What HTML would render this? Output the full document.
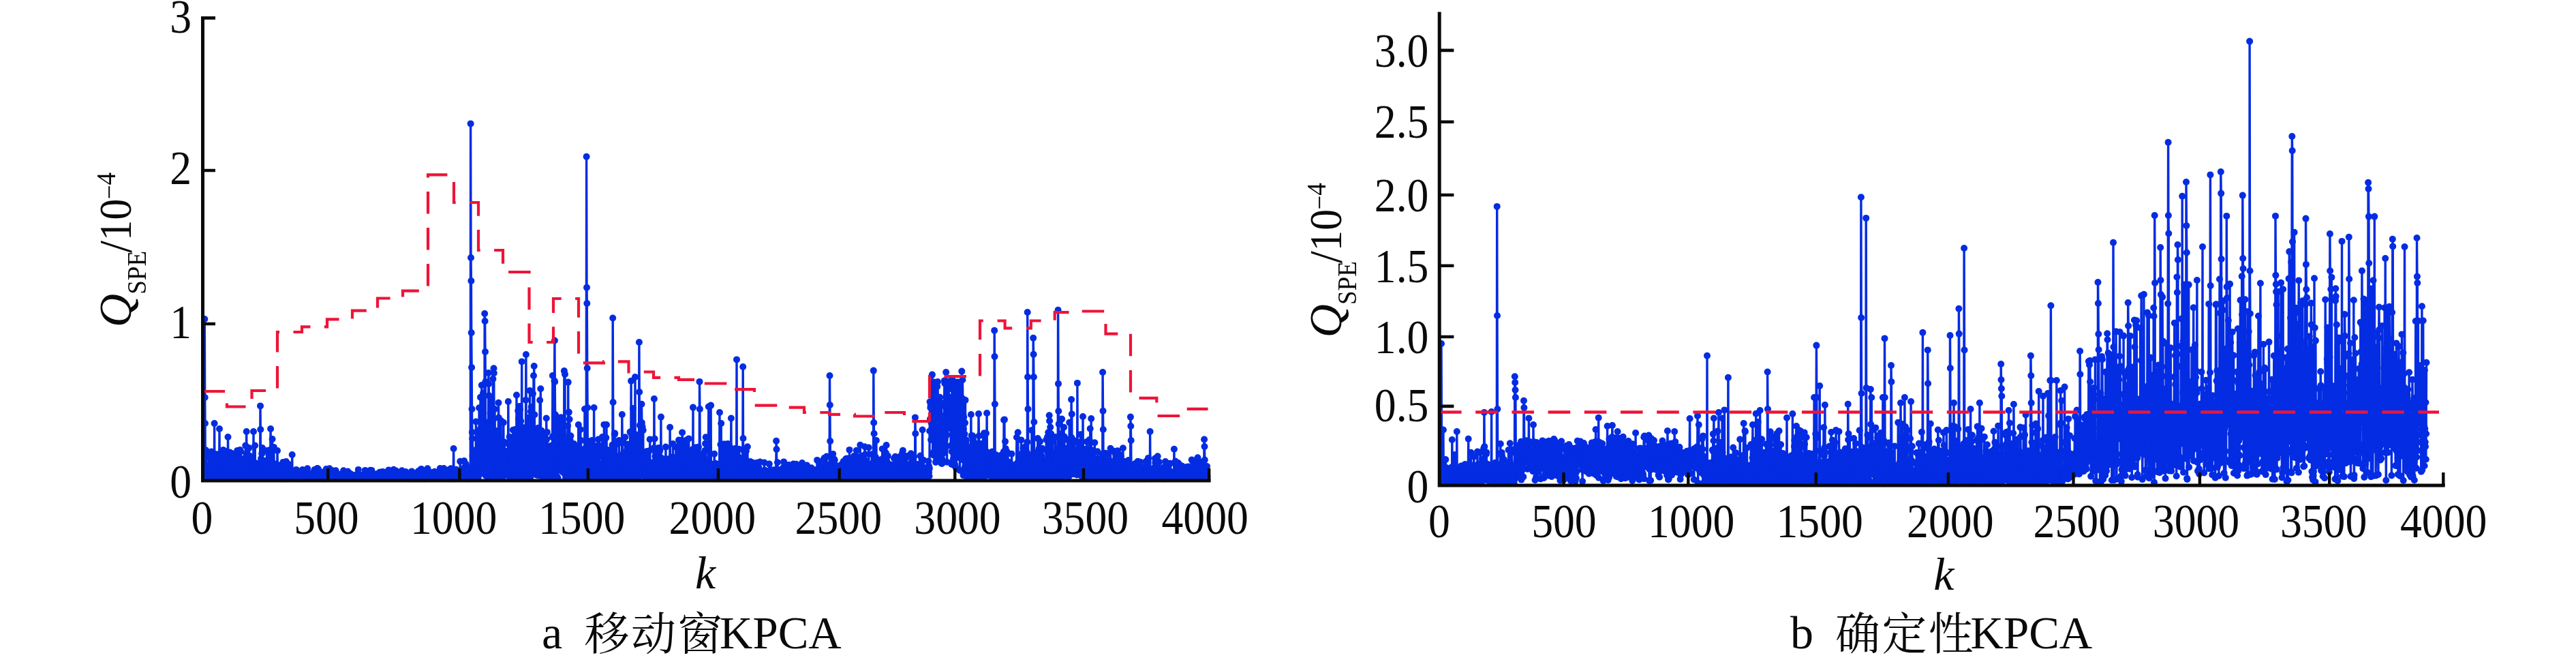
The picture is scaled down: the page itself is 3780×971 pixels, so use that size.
<!DOCTYPE html>
<html lang="zh"><head><meta charset="utf-8"><title>SPE monitoring charts</title>
<style>html,body{margin:0;padding:0;background:#fff}body{width:3780px;height:971px;overflow:hidden}svg{display:block;will-change:transform}text{font-family:"Liberation Serif", "Noto Serif CJK SC", serif;fill:#0a0a0a}</style></head><body>
<svg width="3780" height="971" viewBox="0 0 3780 971">
<rect width="3780" height="971" fill="#fff"/>
<defs><marker id="ma" markerUnits="userSpaceOnUse" markerWidth="12" markerHeight="12" refX="6" refY="6" overflow="visible"><circle cx="6" cy="6" r="5.0" fill="#042ce2"/></marker></defs>
<path d="M300.3,468L300.7,583 301,621 301.4,701.7 301.8,700.9 302.1,660.2 302.5,701.4 302.9,700 303.2,698.8 303.6,694.1 304,698.2 304.3,692.8 304.7,690.5 305.1,700.7 305.5,685.2 305.8,686.5 306.2,670.6 306.6,668 306.9,682 307.3,686.7 307.7,696.1 308,695.7 308.4,694.7 308.8,691.6 309.1,674.8 309.5,692.2 309.9,686.8 310.2,662.5 310.6,701.8 311,696.4 311.3,689.4 311.7,698.3 312.1,666.2 312.4,696.5 312.8,698 313.2,687.6 313.5,699.5 313.9,695.1 314.3,700.4 314.6,621 315,698.2 315.4,697.7 315.8,688.7 316.1,692.3 316.5,666.3 316.9,695.7 317.2,702.2 317.6,698.5 318,699 318.3,701.5 318.7,702.1 319.1,699.3 319.4,666.6 319.8,695.5 320.2,691.3 320.5,699.4 320.9,700.1 321.3,701.5 321.6,691.7 322,629 322.4,696.2 322.7,687.3 323.1,701.1 323.5,698.6 323.8,689.8 324.2,679 324.6,701.1 324.9,663.2 325.3,694.5 325.7,702 326.1,701.3 326.4,700.6 326.8,685.6 327.2,690.4 327.5,660 327.9,699.4 328.3,698.4 328.6,688.5 329,693.7 329.4,687.9 329.7,698.8 330.1,692.6 330.5,700 330.8,661.7 331.2,701.1 331.6,700 331.9,688 332.3,701 332.7,680.6 333,688 333.4,672 333.8,685.4 334.1,691.3 334.5,641 334.9,674 335.2,696.5 335.6,690.3 336,698.1 336.4,679 336.7,691.6 337.1,680.1 337.5,663.5 337.8,701.2 338.2,682.7 338.6,692.9 338.9,679.7 339.3,688.7 339.7,697.2 340,700.9 340.4,665.2 340.8,694.4 341.1,697.4 341.5,675 341.9,698.9 342.2,675 342.6,691 343,701 343.3,700.8 343.7,667.5 344.1,688.9 344.4,699.7 344.8,693.5 345.2,700.8 345.6,699.4 345.9,700.4 346.3,669.7 346.7,690.3 347,700.9 347.4,700.5 347.8,699.3 348.1,661 348.5,663 348.9,686.7 349.2,700.4 349.6,697.6 350,662 350.3,698.2 350.7,698.2 351.1,701.2 351.4,660.7 351.8,680.4 352.2,659.9 352.5,695.5 352.9,695.5 353.3,662.2 353.6,694.2 354,698.4 354.4,685.9 354.7,700.6 355.1,694.9 355.5,672.9 355.9,691.7 356.2,700.6 356.6,679.9 357,696.5 357.3,682.6 357.7,698.7 358.1,691.6 358.4,685.8 358.8,689.1 359.2,699.2 359.5,699.9 359.9,695.2 360.3,653.6 360.6,700.6 361,693.9 361.4,665.9 361.7,633 362.1,691.7 362.5,698.2 362.8,696.2 363.2,691.5 363.6,698 363.9,669.1 364.3,693.4 364.7,683.4 365,699.4 365.4,657.1 365.8,690.3 366.2,701.3 366.5,668.7 366.9,676.3 367.3,679.6 367.6,693.6 368,675.1 368.4,688.9 368.7,686.6 369.1,701.1 369.5,695.1 369.8,694.9 370.2,688.3 370.6,675.9 370.9,690.4 371.3,690.8 371.7,696.2 372,633 372.4,695 372.8,701.5 373.1,695.8 373.5,685.8 373.9,692 374.2,653.5 374.6,698.4 375,679.2 375.3,692.1 375.7,689.9 376.1,695.6 376.5,699.1 376.8,689.4 377.2,683.4 377.6,693.4 377.9,701.6 378.3,700.6 378.7,688.2 379,679.9 379.4,701.4 379.8,684.1 380.1,681.5 380.5,699.2 380.9,682.9 381.2,692.1 381.6,685.9 382,595.4 382.3,630 382.7,700.5 383.1,672.7 383.4,698.6 383.8,693.2 384.2,665.4 384.5,687.8 384.9,657.1 385.3,701.4 385.7,701 386,696.6 386.4,688.2 386.8,701.1 387.1,701.8 387.5,697.5 387.9,696.4 388.2,676 388.6,697.4 389,702.1 389.3,700.4 389.7,697.8 390.1,689.2 390.4,687.6 390.8,680.4 391.2,691.9 391.5,661.1 391.9,698.2 392.3,700.1 392.6,692.9 393,697.2 393.4,680.4 393.7,701 394.1,691.4 394.5,666.4 394.8,693.8 395.2,695.9 395.6,699.1 396,660.1 396.3,691.3 396.7,668.7 397.1,629 397.4,675.1 397.8,700.7 398.2,699.8 398.5,684.5 398.9,697.6 399.3,698.5 399.6,644 400,693.3 400.4,697.2 400.7,696.9 401.1,697.6 401.5,701.1 401.8,655.9 402.2,686.1 402.6,699.3 402.9,698.4 403.3,689 403.7,693.5 404,701.3 404.4,702 404.8,695.3 405.1,680.4 405.5,691.8 405.9,691.1 406.3,690.5 406.6,693.4 407,661 407.4,692.7 407.7,699.9 408.1,699.2 408.5,700.6 408.8,701.6 409.2,682.4 409.6,697.6 409.9,702.1 410.3,698.8 410.7,690.9 411,699.9 411.4,699.9 411.8,691.1 412.1,701.3 412.5,702.2 412.9,682.2 413.2,700.6 413.6,696.1 414,695.7 414.3,700.6 414.7,701.9 415.1,701.7 415.5,677.9 415.8,698.5 416.2,702.1 416.6,698 416.9,694.2 417.3,697.2 417.7,693.4 418,683.6 418.4,693.6 418.8,700.4 419.1,699.4 419.5,702.2 419.9,677 420.2,696.1 420.6,695.1 421,701.9 421.3,693.1 421.7,694.5 422.1,683.3 422.4,699.6 422.8,696.7 423.2,688.5 423.5,700.2 423.9,701 424.3,681.3 424.6,694.1 425,696.3 425.4,697.3 425.8,697.6 426.1,699.1 426.5,702.1 426.9,698.8 427.2,695.6 427.6,689.7 428,701 428.3,701.1 428.7,667 429.1,701.7 429.4,695 429.8,701.7 430.2,699.2 430.5,691 430.9,700.6 431.3,701.3 431.6,697.7 432,695.6 432.4,698.4 432.7,702.1 433.1,700.6 433.5,702.1 433.8,696.5 434.2,702 434.6,688.9 434.9,699.4 435.3,701.1 435.7,696 436.1,698.6 436.4,698 436.8,702.1 437.2,698.7 437.5,702.2 437.9,701.5 438.3,695.4 438.6,696.8 439,700.1 439.4,701.6 439.7,696.8 440.1,702 440.5,696 440.8,697.2 441.2,701 441.6,697 441.9,699.2 442.3,696 442.7,699.8 443,701.2 443.4,690.1 443.8,689 444.1,693.4 444.5,701.2 444.9,695.2 445.2,699.4 445.6,700.2 446,696 446.4,701.1 446.7,701.5 447.1,700.9 447.5,698.5 447.8,697.8 448.2,701.3 448.6,697.7 448.9,695.9 449.3,701.3 449.7,699 450,701.7 450.4,700.4 450.8,697.3 451.1,687.2 451.5,696.9 451.9,700.9 452.2,698.1 452.6,700.4 453,701.7 453.3,695.6 453.7,694.8 454.1,697.8 454.4,700.9 454.8,699.5 455.2,697.5 455.6,700.1 455.9,698 456.3,696.5 456.7,700.1 457,697.7 457.4,701.1 457.8,698.5 458.1,699.5 458.5,693.9 458.9,701 459.2,701.3 459.6,698.8 460,699.9 460.3,695.3 460.7,698.6 461.1,700.3 461.4,689 461.8,700.2 462.2,698.6 462.5,696.8 462.9,697.4 463.3,695 463.6,699.9 464,697.8 464.4,702.1 464.7,696.9 465.1,700.6 465.5,687 465.9,701.9 466.2,691.9 466.6,687.6 467,700.3 467.3,701.3 467.7,701.1 468.1,701.8 468.4,701.3 468.8,701.1 469.2,702.1 469.5,695.7 469.9,700 470.3,700.1 470.6,699.6 471,692.2 471.4,696.3 471.7,700.4 472.1,699.5 472.5,701.2 472.8,701.6 473.2,701.2 473.6,696.9 473.9,700 474.3,701.6 474.7,701.1 475,699.9 475.4,698.3 475.8,702.1 476.2,702.2 476.5,701.9 476.9,699.5 477.3,701.4 477.6,694 478,696.6 478.4,701.3 478.7,688 479.1,701.4 479.5,699.6 479.8,695.6 480.2,699.2 480.6,701.5 480.9,701.6 481.3,701.9 481.7,700.2 482,697.3 482.4,688.3 482.8,697.9 483.1,699.3 483.5,687.3 483.9,699.1 484.2,695.3 484.6,700.4 485,700.8 485.3,698.7 485.7,700.5 486.1,695.7 486.5,698.1 486.8,702 487.2,697.2 487.6,690.2 487.9,699.1 488.3,691.7 488.7,699.9 489,691.9 489.4,699.1 489.8,700.1 490.1,700.5 490.5,693.5 490.9,700.9 491.2,696.8 491.6,694.1 492,698.9 492.3,697.1 492.7,690.3 493.1,701.9 493.4,701.6 493.8,701.5 494.2,697.9 494.5,699 494.9,698.5 495.3,701.9 495.7,699.8 496,695.6 496.4,698.2 496.8,698 497.1,701.2 497.5,700.2 497.9,700.1 498.2,700.6 498.6,697 499,699.3 499.3,701.9 499.7,699 500.1,695.8 500.4,701.8 500.8,699.6 501.2,701.4 501.5,696.1 501.9,698.3 502.3,700.7 502.6,699.3 503,695.6 503.4,700.8 503.7,692.6 504.1,690.2 504.5,698.3 504.8,700.9 505.2,700.4 505.6,696.1 506,698.4 506.3,701.4 506.7,700.9 507.1,701.8 507.4,702.1 507.8,701.1 508.2,700 508.5,700.2 508.9,696.1 509.3,694.1 509.6,693.8 510,701.1 510.4,691.5 510.7,698.8 511.1,701.9 511.5,701.1 511.8,699.7 512.2,698.7 512.6,694.1 512.9,698.7 513.3,702 513.7,694.9 514,702.1 514.4,701.3 514.8,699.3 515.1,701.9 515.5,695.8 515.9,701.2 516.3,700.5 516.6,700.2 517,701 517.4,702 517.7,701.5 518.1,701.4 518.5,697.4 518.8,701.6 519.2,701.9 519.6,701.4 519.9,700.1 520.3,697.5 520.7,701 521,699.4 521.4,700.7 521.8,701.6 522.1,700.5 522.5,699.8 522.9,702 523.2,700.9 523.6,695.8 524,701.5 524.3,702.1 524.7,701.8 525.1,701.3 525.4,701.5 525.8,688.9 526.2,702 526.6,701.8 526.9,698.9 527.3,699.5 527.7,700 528,701 528.4,701.4 528.8,699.8 529.1,701.3 529.5,696.8 529.9,699.1 530.2,700.8 530.6,700.1 531,698.8 531.3,697 531.7,701.5 532.1,701.3 532.4,701.9 532.8,702.2 533.2,696.4 533.5,698.2 533.9,699.9 534.3,698.3 534.6,697.5 535,701.5 535.4,694.2 535.8,689.9 536.1,695.4 536.5,696.3 536.9,701.5 537.2,692.2 537.6,701.8 538,700.1 538.3,701.7 538.7,697.6 539.1,700.2 539.4,700.7 539.8,700.1 540.2,695.4 540.5,699.7 540.9,701.3 541.3,700.8 541.6,701.1 542,696.4 542.4,697.7 542.7,698 543.1,699.3 543.5,689.8 543.8,699.9 544.2,702 544.6,700 544.9,698.4 545.3,689.9 545.7,701.8 546.1,699.2 546.4,698.6 546.8,701.1 547.2,701.6 547.5,700.4 547.9,702.1 548.3,701.9 548.6,697.4 549,695.3 549.4,695.9 549.7,697.9 550.1,701.8 550.5,697.3 550.8,701.7 551.2,698.8 551.6,701 551.9,699.7 552.3,701.6 552.7,701 553,697.8 553.4,699.7 553.8,695.1 554.1,701.1 554.5,699.8 554.9,701.7 555.2,700.6 555.6,695 556,695.3 556.4,702 556.7,699.4 557.1,692.8 557.5,698.6 557.8,696.5 558.2,702 558.6,700.1 558.9,692.6 559.3,701.1 559.7,701.7 560,699.7 560.4,700.6 560.8,701.5 561.1,700.9 561.5,697.6 561.9,691.9 562.2,702 562.6,700.4 563,700.4 563.3,699.2 563.7,697.5 564.1,700.1 564.4,695.4 564.8,701.6 565.2,697.1 565.6,693.3 565.9,694.3 566.3,701.6 566.7,698.1 567,700.2 567.4,701.9 567.8,698.4 568.1,702 568.5,701.5 568.9,701.3 569.2,695.9 569.6,698.1 570,698 570.3,689.4 570.7,701.8 571.1,699.6 571.4,701.8 571.8,696.4 572.2,701.8 572.5,701.4 572.9,700.1 573.3,698.4 573.6,700.2 574,700 574.4,696.5 574.7,700.9 575.1,698.5 575.5,701 575.9,701.2 576.2,700 576.6,700.8 577,701.3 577.3,702 577.7,688.7 578.1,699.1 578.4,699.4 578.8,702 579.2,690.8 579.5,701.2 579.9,699.5 580.3,699.6 580.6,693.1 581,700.3 581.4,690.8 581.7,700.2 582.1,695.2 582.5,701.3 582.8,697.7 583.2,697.5 583.6,700.2 583.9,699.7 584.3,702.1 584.7,695.3 585,698.9 585.4,700.3 585.8,700.7 586.2,694.9 586.5,701.4 586.9,700.9 587.3,701.2 587.6,700.6 588,701.4 588.4,701.6 588.7,694.1 589.1,697.9 589.5,701.8 589.8,690.3 590.2,697.2 590.6,694.3 590.9,699 591.3,700.5 591.7,700.8 592,699.8 592.4,699.7 592.8,700.3 593.1,697.2 593.5,699.1 593.9,701.3 594.2,700.9 594.6,701.6 595,699.8 595.3,692 595.7,698.7 596.1,701.1 596.5,700.9 596.8,701 597.2,702.1 597.6,694.8 597.9,694.7 598.3,700.2 598.7,701.2 599,701.2 599.4,699 599.8,700.9 600.1,696.8 600.5,697.5 600.9,695.9 601.2,697.6 601.6,700.4 602,701.5 602.3,702.1 602.7,696.4 603.1,699.5 603.4,692.5 603.8,695.9 604.2,691.4 604.5,694.6 604.9,702 605.3,701.5 605.7,700.2 606,698.8 606.4,694.8 606.8,701 607.1,702.2 607.5,695.2 607.9,699.7 608.2,701.6 608.6,697.3 609,701.5 609.3,700.9 609.7,700.9 610.1,698.1 610.4,699 610.8,697.5 611.2,695.3 611.5,698.5 611.9,700.3 612.3,698.5 612.6,695 613,700.8 613.4,699.7 613.7,691.2 614.1,693.2 614.5,699.8 614.8,698.9 615.2,700.9 615.6,699.8 616,690.1 616.3,696.3 616.7,701.2 617.1,692.1 617.4,698.8 617.8,700.5 618.2,687.9 618.5,701 618.9,701.9 619.3,702.2 619.6,699.5 620,690.7 620.4,695.1 620.7,701.7 621.1,691.1 621.5,696.1 621.8,698 622.2,698.1 622.6,701.2 622.9,699.4 623.3,702.2 623.7,702.1 624,695.8 624.4,702.1 624.8,696.2 625.1,699.9 625.5,698 625.9,701.4 626.3,701 626.6,701.8 627,698.8 627.4,687.2 627.7,697.8 628.1,693.6 628.5,701.4 628.8,700.1 629.2,701.6 629.6,698.4 629.9,696.9 630.3,701 630.7,698.7 631,701.7 631.4,700.5 631.8,701.9 632.1,699.3 632.5,693.1 632.9,698.4 633.2,701.8 633.6,701.9 634,697.9 634.3,695 634.7,701.2 635.1,701.5 635.4,701.8 635.8,697.1 636.2,699.2 636.6,701.8 636.9,697.9 637.3,701.6 637.7,691.7 638,701.2 638.4,699.8 638.8,699.3 639.1,699.4 639.5,702.1 639.9,700.9 640.2,700.5 640.6,697.4 641,701 641.3,700.1 641.7,699 642.1,699.6 642.4,698 642.8,700.6 643.2,693.8 643.5,700 643.9,698.3 644.3,697.8 644.6,695.3 645,698.8 645.4,698.8 645.8,687 646.1,695.3 646.5,699.1 646.9,699.7 647.2,699.7 647.6,697.3 648,700.6 648.3,698.1 648.7,696.9 649.1,696.5 649.4,701.1 649.8,693.3 650.2,690.3 650.5,693.8 650.9,701.4 651.3,687.1 651.6,701 652,701.6 652.4,700.8 652.7,698.3 653.1,700.9 653.5,698.3 653.8,700 654.2,695.6 654.6,698.2 654.9,695.3 655.3,701.1 655.7,701.6 656.1,699.1 656.4,691.8 656.8,696.3 657.2,694.2 657.5,701.9 657.9,698.3 658.3,700.3 658.6,690.7 659,689 659.4,701.6 659.7,702.1 660.1,697.2 660.5,697.9 660.8,694.6 661.2,699.2 661.6,687.2 661.9,702.2 662.3,702.1 662.7,698.3 663,698.6 663.4,699.3 663.8,697.1 664.1,699.5 664.5,695.5 664.9,700.1 665.2,700.3 665.6,658 666,698.6 666.4,700.8 666.7,700.4 667.1,700.5 667.5,699.4 667.8,692.3 668.2,699.4 668.6,701.3 668.9,696.3 669.3,688.8 669.7,698.8 670,696.2 670.4,698.7 670.8,701.6 671.1,701.5 671.5,696.3 671.9,698.9 672.2,700.6 672.6,702 673,696.9 673.3,700.9 673.7,695.6 674.1,699.9 674.4,701.1 674.8,699.9 675.2,676.7 675.5,700.5 675.9,699.9 676.3,694.6 676.7,690 677,698.2 677.4,692 677.8,698.2 678.1,699.1 678.5,696.2 678.9,698.3 679.2,701.6 679.6,699.5 680,701.1 680.3,700.1 680.7,697.9 681.1,676 681.4,694.2 681.8,685.2 682.2,695.1 682.5,693.3 682.9,694.6 683.3,698.2 683.6,680.5 684,691.6 684.4,700.7 684.7,700.8 685.1,701.8 685.5,694.3 685.9,687.7 686.2,702.2 686.6,693.2 687,689.4 687.3,701.8 687.7,700.1 688.1,701.5 688.4,696.4 688.8,697.8 689.2,696.2 689.5,700.7 689.9,701.3 690.3,685.9 690.6,181.4 691,378 691.4,412 691.7,488 692.1,539 692.5,600 692.8,634 693.2,643.2 693.6,668.5 693.9,688.6 694.3,701.9 694.7,693.7 695,660.5 695.4,684.6 695.8,683.3 696.2,694 696.5,686 696.9,700.5 697.3,695.6 697.6,668.1 698,688.8 698.4,618.5 698.7,670.3 699.1,681 699.5,675.2 699.8,696.8 700.2,690.9 700.6,687.2 700.9,683.9 701.3,631.3 701.7,700.3 702,687.2 702.4,669.7 702.8,692.5 703.1,598.3 703.5,679.6 703.9,637.2 704.2,678.6 704.6,650.1 705,582.8 705.3,674.6 705.7,682.4 706.1,667 706.5,668.2 706.8,565 707.2,622.9 707.6,635.6 707.9,681.4 708.3,694.6 708.7,683.7 709,576.7 709.4,605.9 709.8,671.8 710.1,680.2 710.5,653.7 710.9,636.7 711.2,460 711.6,471 712,516 712.3,560 712.7,692.1 713.1,698 713.4,685.4 713.8,671.4 714.2,644.5 714.5,640 714.9,670.4 715.3,623.3 715.7,633.5 716,689.7 716.4,700.8 716.8,546.9 717.1,563.3 717.5,580.3 717.9,638.9 718.2,618 718.6,682.2 719,582 719.3,655.6 719.7,622 720.1,630.9 720.4,583 720.8,694.1 721.2,622.6 721.5,672.6 721.9,646.6 722.3,674.5 722.6,623.4 723,700.8 723.4,555.7 723.7,660.3 724.1,615.2 724.5,540.2 724.8,547.2 725.2,688.8 725.6,694.3 726,600 726.3,650.8 726.7,699.3 727.1,701.9 727.4,686.5 727.8,655.7 728.2,700.1 728.5,632.1 728.9,683 729.3,657.2 729.6,664.9 730,683.8 730.4,687.5 730.7,682.7 731.1,675.4 731.5,590.8 731.8,612.7 732.2,682.8 732.6,693.8 732.9,700.2 733.3,692.2 733.7,669.5 734,700.9 734.4,687.4 734.8,698.3 735.1,617 735.5,693.1 735.9,678.4 736.3,693.8 736.6,655.8 737,698.7 737.4,700.2 737.7,694.6 738.1,699.3 738.5,674.6 738.8,619.8 739.2,692.9 739.6,660.8 739.9,697.3 740.3,648.5 740.7,673.6 741,678.5 741.4,689.9 741.8,688.6 742.1,671.1 742.5,681.5 742.9,695.3 743.2,677.1 743.6,695 744,662.5 744.3,661.9 744.7,690.1 745.1,673.3 745.4,693.3 745.8,589 746.2,666.7 746.6,651.7 746.9,650.8 747.3,667.6 747.7,640.7 748,700.6 748.4,659.4 748.8,697.8 749.1,647 749.5,676.9 749.9,672.8 750.2,681.7 750.6,698.6 751,669.1 751.3,664.5 751.7,671.4 752.1,698.7 752.4,673.2 752.8,630.7 753.2,685.6 753.5,700.6 753.9,696.7 754.3,689.8 754.6,701.5 755,668.2 755.4,696.4 755.8,630 756.1,687.2 756.5,652.8 756.9,665.7 757.2,696.9 757.6,696.9 758,579.5 758.3,688.2 758.7,692.3 759.1,698.1 759.4,676.3 759.8,690.1 760.2,602.5 760.5,682.8 760.9,614.9 761.3,699.5 761.6,668.2 762,685.2 762.4,595.9 762.7,700.3 763.1,600.4 763.5,679.8 763.8,698.9 764.2,617.7 764.6,695.2 764.9,672.1 765.3,666.6 765.7,530.4 766.1,645.2 766.4,694.9 766.8,697.4 767.2,693.7 767.5,681.1 767.9,686.8 768.3,627.3 768.6,672 769,701.6 769.4,680.6 769.7,696.9 770.1,641.8 770.5,656.8 770.8,644.2 771.2,670.6 771.6,586.7 771.9,520 772.3,677.3 772.7,674.4 773,699.2 773.4,663.9 773.8,639.9 774.1,700.2 774.5,662.5 774.9,688.3 775.2,612.8 775.6,701.2 776,689.9 776.4,690.3 776.7,678.6 777.1,692.2 777.5,572.9 777.8,695.3 778.2,700.5 778.6,680.8 778.9,603.6 779.3,684.6 779.7,597 780,696.3 780.4,681.3 780.8,695.4 781.1,685.8 781.5,686.2 781.9,577.4 782.2,688.1 782.6,695.1 783,551 783.3,694.7 783.7,537 784.1,670.2 784.4,608.3 784.8,675.9 785.2,644.8 785.5,671.3 785.9,648.4 786.3,674.6 786.7,633.3 787,682.5 787.4,696.7 787.8,664.9 788.1,648.6 788.5,680.8 788.9,630 789.2,663.1 789.6,627.7 790,697.5 790.3,695.1 790.7,670.5 791.1,690 791.4,631.4 791.8,655.5 792.2,587 792.5,672.9 792.9,666 793.3,570.2 793.6,638.2 794,683.4 794.4,651.1 794.7,631.8 795.1,666.1 795.5,670.4 795.9,697.6 796.2,652.6 796.6,700.7 797,639.5 797.3,686.7 797.7,695.9 798.1,680.7 798.4,676.3 798.8,677 799.2,657 799.5,691.5 799.9,699.9 800.3,647.5 800.6,700.6 801,681 801.4,698.1 801.7,613.5 802.1,644.6 802.5,695.9 802.8,633.9 803.2,695.6 803.6,692.8 803.9,699.5 804.3,683.6 804.7,682.9 805,696 805.4,688 805.8,683.7 806.2,655 806.5,666.6 806.9,695.5 807.3,697 807.6,673.4 808,697.9 808.4,696.3 808.7,653.7 809.1,693.8 809.5,680.7 809.8,678.2 810.2,683.3 810.6,641.3 810.9,551 811.3,639.8 811.7,694.8 812,689.6 812.4,660.5 812.8,701.9 813.1,686.5 813.5,558.6 813.9,499.5 814.2,560 814.6,608 815,641.4 815.3,609.6 815.7,658.6 816.1,699.3 816.5,658.2 816.8,698.3 817.2,614.3 817.6,682.4 817.9,688.7 818.3,700.9 818.7,702.1 819,672.6 819.4,644 819.8,677.5 820.1,616.5 820.5,674.9 820.9,688.5 821.2,657.2 821.6,687.9 822,678.4 822.3,688.9 822.7,676.7 823.1,612.2 823.4,674.9 823.8,689.3 824.2,618.5 824.5,670.7 824.9,691.8 825.3,668.5 825.6,650.7 826,680.4 826.4,638.7 826.8,650 827.1,693.5 827.5,681.8 827.9,544 828.2,663 828.6,683.5 829,549 829.3,696.1 829.7,673.2 830.1,701.2 830.4,678 830.8,666.7 831.2,667.4 831.5,647 831.9,697.3 832.3,667.6 832.6,647 833,624.4 833.4,688.3 833.7,560.6 834.1,684.7 834.5,701.9 834.8,604.6 835.2,655.5 835.6,615 836,700.4 836.3,687.6 836.7,645.9 837.1,649.5 837.4,639.2 837.8,675 838.2,663.1 838.5,692.8 838.9,689.5 839.3,664.3 839.6,689.1 840,680.3 840.4,675.3 840.7,670.6 841.1,678.4 841.5,688.7 841.8,700.1 842.2,651.1 842.6,693.7 842.9,696.2 843.3,694.2 843.7,667.2 844,658.4 844.4,695.8 844.8,695 845.1,656.2 845.5,688 845.9,696.8 846.3,699.7 846.6,683.5 847,692.5 847.4,674.5 847.7,698.9 848.1,691.6 848.5,684.7 848.8,623 849.2,692.1 849.6,701.8 849.9,668.5 850.3,689.6 850.7,689.7 851,699.5 851.4,685.6 851.8,630 852.1,692 852.5,646.1 852.9,697.7 853.2,695.4 853.6,689.8 854,667.5 854.3,663 854.7,689.2 855.1,685.3 855.4,698.3 855.8,660.5 856.2,695.7 856.6,664.4 856.9,702.2 857.3,687.2 857.7,658.4 858,600 858.4,664.3 858.8,690.7 859.1,690.2 859.5,680.9 859.9,684.4 860.2,694.2 860.6,229.8 861,421.7 861.3,445 861.7,540 862.1,598 862.4,696 862.8,672.8 863.2,693.8 863.5,679.2 863.9,674.8 864.3,696.1 864.6,688 865,647.3 865.4,680.9 865.7,656.2 866.1,698.9 866.5,692.8 866.9,678.4 867.2,669.1 867.6,686.8 868,654.2 868.3,679.9 868.7,646 869.1,676.9 869.4,694.7 869.8,690.2 870.2,678.8 870.5,690.6 870.9,698.7 871.3,685.2 871.6,598 872,695.7 872.4,691.8 872.7,689.1 873.1,697.8 873.5,695.2 873.8,696.5 874.2,661.8 874.6,654.3 874.9,684.4 875.3,701.8 875.7,699.9 876.1,656.5 876.4,690.5 876.8,685.6 877.2,690.1 877.5,696.8 877.9,644.6 878.3,661.2 878.6,665.9 879,702.1 879.4,653.7 879.7,660.3 880.1,698.7 880.5,690.2 880.8,700.2 881.2,697.9 881.6,689.8 881.9,697.2 882.3,701.4 882.7,680.3 883,685 883.4,681.7 883.8,641.1 884.1,685.5 884.5,693.4 884.9,669.9 885.2,688.2 885.6,684.7 886,698.5 886.4,622.9 886.7,676.6 887.1,690.6 887.5,687.5 887.8,700.7 888.2,689.4 888.6,678.9 888.9,678.9 889.3,642.1 889.7,691 890,623 890.4,691.2 890.8,678.8 891.1,701 891.5,697 891.9,671.9 892.2,659.9 892.6,696.4 893,676.5 893.3,686.6 893.7,692.7 894.1,695.6 894.4,687.7 894.8,697.5 895.2,701.6 895.5,662.3 895.9,679.3 896.3,694 896.7,699.3 897,664.8 897.4,684.6 897.8,700.8 898.1,671.1 898.5,652.8 898.9,688.6 899.2,466.5 899.6,590 900,682.8 900.3,669.1 900.7,686 901.1,675 901.4,677.7 901.8,637.3 902.2,635.6 902.5,700.5 902.9,701.1 903.3,697.2 903.6,697.9 904,691.2 904.4,651.7 904.7,699.4 905.1,699.9 905.5,694.5 905.9,700.2 906.2,701.3 906.6,670.3 907,692.1 907.3,681.4 907.7,696.2 908.1,701.3 908.4,645.9 908.8,700.5 909.2,695.2 909.5,668.3 909.9,692.4 910.3,687.9 910.6,689.2 911,686.1 911.4,671.3 911.7,690.4 912.1,701.5 912.5,702 912.8,608 913.2,649.9 913.6,693.1 913.9,696.2 914.3,689.1 914.7,684.9 915,664.4 915.4,684.8 915.8,674.6 916.2,685 916.5,687.8 916.9,700.6 917.3,641.2 917.6,699.8 918,670.5 918.4,663.8 918.7,698.5 919.1,685.5 919.5,694.7 919.8,697.1 920.2,651.4 920.6,658.9 920.9,699.4 921.3,661.9 921.7,688.3 922,701.8 922.4,667.3 922.8,676.7 923.1,666.2 923.5,677.7 923.9,698.4 924.2,691.7 924.6,633.6 925,688.7 925.3,701.6 925.7,699.6 926.1,558.7 926.5,698.1 926.8,636.8 927.2,701.7 927.6,695.7 927.9,698.9 928.3,670 928.7,699.5 929,599.1 929.4,693.9 929.8,650 930.1,680.3 930.5,690.6 930.9,698 931.2,692.5 931.6,645.2 932,553 932.3,701.6 932.7,666.7 933.1,637.6 933.4,665.8 933.8,668.3 934.2,680.2 934.5,691.4 934.9,700.2 935.3,640.3 935.6,688 936,664 936.4,684.5 936.8,701.3 937.1,681.4 937.5,677.8 937.9,502 938.2,575 938.6,679 939,623.9 939.3,683.4 939.7,663.3 940.1,624.6 940.4,640.2 940.8,692.1 941.2,683.6 941.5,592.7 941.9,620 942.3,697.3 942.6,625.7 943,678.3 943.4,676.9 943.7,631.1 944.1,686.2 944.5,687.3 944.8,689.3 945.2,678.6 945.6,694.5 946,698.9 946.3,674 946.7,663.2 947.1,686.5 947.4,675.2 947.8,679.3 948.2,699.4 948.5,691 948.9,682.9 949.3,661.9 949.6,686.4 950,670.4 950.4,683.6 950.7,690.1 951.1,701.3 951.5,698.2 951.8,701.1 952.2,690 952.6,699.8 952.9,661.3 953.3,696.9 953.7,644.4 954,695.7 954.4,700.1 954.8,699.7 955.1,693.2 955.5,678.4 955.9,684.5 956.3,697.4 956.6,698 957,701.4 957.4,697 957.7,697.5 958.1,699.1 958.5,686.1 958.8,681.9 959.2,657.2 959.6,698.6 959.9,585 960.3,686.7 960.7,643.5 961,699.7 961.4,669.3 961.8,676.8 962.1,697.4 962.5,663.9 962.9,694.8 963.2,690.1 963.6,698.1 964,681.8 964.3,676.2 964.7,697.7 965.1,684.6 965.4,696.8 965.8,674.9 966.2,656.9 966.6,672.2 966.9,701.4 967.3,696.7 967.7,686.7 968,694.1 968.4,660.9 968.8,697.4 969.1,692.6 969.5,701.3 969.9,611.6 970.2,691.9 970.6,698.5 971,672.1 971.3,697.8 971.7,682.6 972.1,686.7 972.4,701.6 972.8,696.7 973.2,679.2 973.5,700.3 973.9,700.6 974.3,693.2 974.6,697.4 975,678.2 975.4,684.6 975.7,692.4 976.1,686.2 976.5,696.7 976.9,655.6 977.2,674.9 977.6,676 978,695.2 978.3,693.3 978.7,684.9 979.1,695.8 979.4,701 979.8,694 980.2,690.5 980.5,674.4 980.9,673.3 981.3,677.4 981.6,691.4 982,674.1 982.4,673.3 982.7,691 983.1,626.7 983.5,699.2 983.8,689.6 984.2,691.2 984.6,695.7 984.9,701.8 985.3,694 985.7,701.4 986.1,689.9 986.4,670.5 986.8,678.5 987.2,698 987.5,651.1 987.9,698.8 988.3,682.6 988.6,690.7 989,693.1 989.4,675.3 989.7,697.2 990.1,694.6 990.5,702 990.8,693.2 991.2,671.1 991.6,681.7 991.9,656 992.3,699.7 992.7,687.8 993,680.3 993.4,671.1 993.8,692.8 994.1,684.3 994.5,689.6 994.9,656.8 995.2,699.9 995.6,671.4 996,645.6 996.4,700.1 996.7,692.9 997.1,697.7 997.5,652.3 997.8,699.6 998.2,690.6 998.6,702 998.9,696.1 999.3,700.1 999.7,673.5 1000,675.4 1000.4,645.7 1000.8,701.3 1001.1,634.4 1001.5,651.5 1001.9,696.6 1002.2,663 1002.6,699.7 1003,693.8 1003.3,694 1003.7,678.5 1004.1,695.4 1004.4,701.5 1004.8,698.3 1005.2,659.2 1005.5,688.5 1005.9,695.2 1006.3,698 1006.7,692.7 1007,699.2 1007.4,645.6 1007.8,663.7 1008.1,686.8 1008.5,698.6 1008.9,682.7 1009.2,662.6 1009.6,685.9 1010,681.8 1010.3,687.5 1010.7,643.4 1011.1,688.3 1011.4,701.8 1011.8,689.5 1012.2,694 1012.5,700.9 1012.9,697.5 1013.3,700.5 1013.6,676.4 1014,678.9 1014.4,673.1 1014.7,701.9 1015.1,667.8 1015.5,701.7 1015.8,698.3 1016.2,659.2 1016.6,690.9 1017,597.6 1017.3,696 1017.7,673.1 1018.1,686.9 1018.4,675.5 1018.8,701.6 1019.2,689 1019.5,664.8 1019.9,691.9 1020.3,690.5 1020.6,688.9 1021,695.9 1021.4,656.2 1021.7,664.9 1022.1,695.4 1022.5,698.1 1022.8,696.3 1023.2,690.2 1023.6,695.1 1023.9,700.3 1024.3,697.1 1024.7,680.9 1025,655.7 1025.4,680.6 1025.8,699.7 1026.2,700.9 1026.5,559.9 1026.9,600 1027.3,700.9 1027.6,684.9 1028,669.8 1028.4,674.5 1028.7,701.3 1029.1,700.6 1029.5,666.8 1029.8,679.5 1030.2,702 1030.6,701.9 1030.9,675.9 1031.3,678.2 1031.7,695.7 1032,697.4 1032.4,694 1032.8,681 1033.1,700 1033.5,698.4 1033.9,700 1034.2,661.1 1034.6,686.2 1035,650.8 1035.3,691.1 1035.7,641.2 1036.1,702.1 1036.5,692.8 1036.8,699.1 1037.2,699.7 1037.6,683.8 1037.9,674.9 1038.3,692 1038.7,676.5 1039,694 1039.4,679.9 1039.8,596.5 1040.1,656.5 1040.5,697.9 1040.9,693 1041.2,700.5 1041.6,690.8 1042,698 1042.3,696.3 1042.7,695.3 1043.1,594.6 1043.4,698.2 1043.8,699.3 1044.2,681.6 1044.5,695.6 1044.9,693.2 1045.3,694.5 1045.6,680.8 1046,700.5 1046.4,694.5 1046.8,686.5 1047.1,700.3 1047.5,692.5 1047.9,695.5 1048.2,665.7 1048.6,702.2 1049,694.3 1049.3,699.6 1049.7,691.9 1050.1,679.8 1050.4,695.6 1050.8,684.4 1051.2,697.2 1051.5,695.5 1051.9,701 1052.3,699.7 1052.6,700.2 1053,696.1 1053.4,681.3 1053.7,699.3 1054.1,686.4 1054.5,684.8 1054.8,681 1055.2,702.1 1055.6,698.7 1056,605 1056.3,684.7 1056.7,700.3 1057.1,691.7 1057.4,652 1057.8,698.1 1058.2,621 1058.5,699.3 1058.9,664.1 1059.3,701 1059.6,684.6 1060,694.4 1060.4,683.4 1060.7,684.6 1061.1,692.3 1061.5,689.7 1061.8,651.6 1062.2,689.9 1062.6,693.1 1062.9,697.6 1063.3,667.2 1063.7,700.1 1064,651.5 1064.4,697.4 1064.8,673.9 1065.1,701.7 1065.5,700 1065.9,697.9 1066.3,655 1066.6,689.9 1067,656.7 1067.4,697.6 1067.7,688.3 1068.1,650.9 1068.5,685.8 1068.8,697.4 1069.2,694.8 1069.6,697.8 1069.9,688.6 1070.3,654.3 1070.7,681.5 1071,686.8 1071.4,663.3 1071.8,700.2 1072.1,658.7 1072.5,677 1072.9,613.5 1073.2,693.5 1073.6,690.5 1074,695.9 1074.3,669.5 1074.7,695.8 1075.1,693.2 1075.4,662.9 1075.8,698.4 1076.2,668.3 1076.6,664.9 1076.9,699.6 1077.3,691.3 1077.7,698.7 1078,699.5 1078.4,657.9 1078.8,695.9 1079.1,663.5 1079.5,693.6 1079.9,699.6 1080.2,698.7 1080.6,692.1 1081,527.4 1081.3,700.7 1081.7,700 1082.1,699.1 1082.4,686.2 1082.8,702.1 1083.2,695.4 1083.5,684.5 1083.9,685.3 1084.3,682 1084.6,658.8 1085,673.3 1085.4,698.3 1085.7,696.6 1086.1,688.5 1086.5,671.4 1086.9,694.2 1087.2,697.8 1087.6,694.4 1088,701.3 1088.3,682.5 1088.7,685.3 1089.1,679 1089.4,697.1 1089.8,683.2 1090.2,538 1090.5,643 1090.9,697.7 1091.3,699.4 1091.6,688.7 1092,662.3 1092.4,701.3 1092.7,690.8 1093.1,679.1 1093.5,680.6 1093.8,690.7 1094.2,693.7 1094.6,698.2 1094.9,661.6 1095.3,699.3 1095.7,678.3 1096.1,680.8 1096.4,700.9 1096.8,655.2 1097.2,681.9 1097.5,680.4 1097.9,694.6 1098.3,687.3 1098.6,701 1099,694.6 1099.4,689.2 1099.7,699.2 1100.1,694.2 1100.5,699.4 1100.8,676.9 1101.2,690.6 1101.6,695.4 1101.9,697.9 1102.3,682.5 1102.7,693.7 1103,691.9 1103.4,683.8 1103.8,683.2 1104.1,697.8 1104.5,692.5 1104.9,678.7 1105.2,695.3 1105.6,699 1106,700.7 1106.4,687.6 1106.7,700.6 1107.1,694.2 1107.5,697.1 1107.8,686.5 1108.2,692.5 1108.6,695.9 1108.9,700.7 1109.3,698.1 1109.7,685 1110,688.4 1110.4,689.3 1110.8,678.8 1111.1,690.8 1111.5,699.3 1111.9,700.7 1112.2,698 1112.6,701 1113,686.2 1113.3,685.4 1113.7,693.2 1114.1,698.5 1114.4,692.8 1114.8,692.9 1115.2,677.5 1115.5,701.1 1115.9,690.5 1116.3,696.3 1116.7,694.7 1117,692.3 1117.4,692.6 1117.8,700.9 1118.1,701.9 1118.5,701.8 1118.9,696.9 1119.2,695.1 1119.6,698.1 1120,698.9 1120.3,701 1120.7,699.3 1121.1,694 1121.4,678.4 1121.8,689.7 1122.2,696.5 1122.5,698.6 1122.9,690.1 1123.3,697.2 1123.6,701.7 1124,693.4 1124.4,701.5 1124.7,696.6 1125.1,698.4 1125.5,700.4 1125.8,691.1 1126.2,701.8 1126.6,700.5 1127,693 1127.3,693.5 1127.7,700.1 1128.1,697.1 1128.4,698.2 1128.8,680.6 1129.2,701.7 1129.5,696.7 1129.9,698.7 1130.3,690.8 1130.6,689 1131,694.6 1131.4,694.9 1131.7,694.1 1132.1,701.5 1132.5,701.8 1132.8,696.3 1133.2,700.7 1133.6,695.4 1133.9,690.1 1134.3,698.4 1134.7,699.8 1135,701.3 1135.4,699.7 1135.8,689.3 1136.2,698.9 1136.5,698.4 1136.9,699.2 1137.3,693.1 1137.6,695.4 1138,695 1138.4,702.2 1138.7,701 1139.1,646.7 1139.5,659 1139.8,695.3 1140.2,692.1 1140.6,700.6 1140.9,678.3 1141.3,694.9 1141.7,701.1 1142,692.6 1142.4,689.2 1142.8,699.7 1143.1,701.6 1143.5,695.1 1143.9,694 1144.2,697.8 1144.6,697 1145,700.7 1145.3,702 1145.7,695.3 1146.1,700.7 1146.5,689.2 1146.8,696.3 1147.2,695.7 1147.6,702 1147.9,698.7 1148.3,687.2 1148.7,701.2 1149,699.3 1149.4,701.9 1149.8,685.4 1150.1,677.4 1150.5,696.9 1150.9,698.5 1151.2,698 1151.6,683.7 1152,681.1 1152.3,694.5 1152.7,701.2 1153.1,701.9 1153.4,701.7 1153.8,694.4 1154.2,687.9 1154.5,683.9 1154.9,700.1 1155.3,689.6 1155.6,691.2 1156,684.8 1156.4,685.3 1156.8,696.1 1157.1,699.8 1157.5,682 1157.9,699.7 1158.2,701.9 1158.6,686.9 1159,700.7 1159.3,699.6 1159.7,693.5 1160.1,700.4 1160.4,686.2 1160.8,696.6 1161.2,692 1161.5,696.9 1161.9,700.6 1162.3,690.8 1162.6,700 1163,690 1163.4,686.2 1163.7,699.6 1164.1,680.6 1164.5,695.7 1164.8,698 1165.2,699.8 1165.6,694.2 1165.9,700 1166.3,700.7 1166.7,699.5 1167.1,694.1 1167.4,701.9 1167.8,690.2 1168.2,680.7 1168.5,697.8 1168.9,690.8 1169.3,699.2 1169.6,689.7 1170,698.9 1170.4,688.6 1170.7,697.6 1171.1,698.3 1171.5,698.7 1171.8,702.2 1172.2,701.1 1172.6,701.7 1172.9,701.9 1173.3,696.6 1173.7,701.5 1174,694.9 1174.4,699.4 1174.8,686.7 1175.1,701.6 1175.5,699.4 1175.9,694.3 1176.3,690.6 1176.6,702.1 1177,679.1 1177.4,700.5 1177.7,693 1178.1,696.4 1178.5,691.1 1178.8,696.9 1179.2,696.8 1179.6,700.5 1179.9,701.5 1180.3,684.5 1180.7,691.6 1181,697.7 1181.4,700.7 1181.8,697.9 1182.1,695 1182.5,698.5 1182.9,696.9 1183.2,697.9 1183.6,692.5 1184,682.5 1184.3,701.6 1184.7,700.6 1185.1,700.6 1185.4,700.4 1185.8,692.1 1186.2,700.8 1186.6,702.1 1186.9,696.4 1187.3,694.6 1187.7,688.3 1188,694.6 1188.4,697.7 1188.8,700.3 1189.1,701.1 1189.5,701.3 1189.9,701.5 1190.2,697 1190.6,686.3 1191,696 1191.3,692 1191.7,689.7 1192.1,697.3 1192.4,700.4 1192.8,691.4 1193.2,701.6 1193.5,697.9 1193.9,701.2 1194.3,698.1 1194.6,700 1195,696.2 1195.4,698.9 1195.7,700.7 1196.1,697.3 1196.5,700.1 1196.9,696.7 1197.2,702 1197.6,689 1198,701.9 1198.3,694.9 1198.7,702.1 1199.1,674.9 1199.4,698.2 1199.8,690.4 1200.2,700.1 1200.5,696.1 1200.9,700.4 1201.3,677.7 1201.6,697.6 1202,697.9 1202.4,691.1 1202.7,700.8 1203.1,683.1 1203.5,698.4 1203.8,700.5 1204.2,700.5 1204.6,688.7 1204.9,699.8 1205.3,701.8 1205.7,696.4 1206.1,698.1 1206.4,697.2 1206.8,699.5 1207.2,692.7 1207.5,702 1207.9,701.3 1208.3,690.2 1208.6,674.1 1209,698.7 1209.4,701 1209.7,671.8 1210.1,700.3 1210.5,701.7 1210.8,681.1 1211.2,692.4 1211.6,694.4 1211.9,697.1 1212.3,696.6 1212.7,685.4 1213,669.6 1213.4,697.6 1213.8,699.8 1214.1,685.5 1214.5,692.3 1214.9,700.9 1215.2,699.4 1215.6,699.4 1216,685.7 1216.4,698.7 1216.7,695.5 1217.1,695.7 1217.5,551 1217.8,594 1218.2,647 1218.6,694 1218.9,680.8 1219.3,688 1219.7,701.5 1220,701.3 1220.4,690.2 1220.8,673.2 1221.1,696.6 1221.5,698.4 1221.9,693.4 1222.2,665.9 1222.6,695.9 1223,698.4 1223.3,700 1223.7,697.1 1224.1,673.6 1224.4,695 1224.8,675 1225.2,685.2 1225.5,701.6 1225.9,691.1 1226.3,692.3 1226.7,689.8 1227,683.1 1227.4,685.9 1227.8,699.3 1228.1,693.3 1228.5,690.2 1228.9,696.3 1229.2,686.5 1229.6,698.1 1230,694.7 1230.3,693.9 1230.7,697.6 1231.1,688.5 1231.4,695.8 1231.8,693.8 1232.2,699.7 1232.5,690.5 1232.9,692.1 1233.3,685.1 1233.6,701.8 1234,698.8 1234.4,681.6 1234.7,693.1 1235.1,697.9 1235.5,689 1235.8,699 1236.2,696.9 1236.6,690.9 1237,693.4 1237.3,701.8 1237.7,676.9 1238.1,697.3 1238.4,697.9 1238.8,691.2 1239.2,679.1 1239.5,690.8 1239.9,680.5 1240.3,686.2 1240.6,693.4 1241,673.2 1241.4,691.7 1241.7,701.4 1242.1,700.3 1242.5,700.5 1242.8,672.4 1243.2,699.2 1243.6,700.6 1243.9,685.9 1244.3,680.7 1244.7,690.4 1245,680.6 1245.4,690.2 1245.8,672.7 1246.2,695.1 1246.5,659.9 1246.9,700.4 1247.3,701.3 1247.6,696.3 1248,680.9 1248.4,696.1 1248.7,673.8 1249.1,700.5 1249.5,701.4 1249.8,695.7 1250.2,684.6 1250.6,691.7 1250.9,702 1251.3,694.3 1251.7,697.5 1252,672.3 1252.4,681.9 1252.8,698.8 1253.1,669.1 1253.5,700.9 1253.9,683.1 1254.2,700.6 1254.6,682.9 1255,701.4 1255.3,693 1255.7,689.9 1256.1,700 1256.5,688.4 1256.8,660.7 1257.2,669.6 1257.6,697.9 1257.9,693.4 1258.3,690.4 1258.7,671.1 1259,700.4 1259.4,692 1259.8,696 1260.1,700.1 1260.5,695.5 1260.9,694.7 1261.2,682.3 1261.6,682.5 1262,698.3 1262.3,652.8 1262.7,701.1 1263.1,694.3 1263.4,699 1263.8,694.6 1264.2,693.2 1264.5,691.9 1264.9,698.3 1265.3,700.9 1265.6,668.7 1266,693.7 1266.4,697.1 1266.8,682.2 1267.1,694.7 1267.5,686.4 1267.9,700.7 1268.2,700.7 1268.6,694 1269,655.3 1269.3,675.1 1269.7,666.3 1270.1,695.7 1270.4,701.4 1270.8,699.2 1271.2,696.8 1271.5,691.3 1271.9,701.2 1272.3,702 1272.6,698.5 1273,697.6 1273.4,682.3 1273.7,701.9 1274.1,694 1274.5,681.5 1274.8,656.5 1275.2,701.1 1275.6,699.9 1275.9,686.3 1276.3,690.9 1276.7,697.1 1277.1,701.7 1277.4,699.4 1277.8,701.6 1278.2,697.3 1278.5,692.3 1278.9,697 1279.3,666.3 1279.6,685.9 1280,698.6 1280.4,679.8 1280.7,688.4 1281.1,691.3 1281.5,678.9 1281.8,543.6 1282.2,620 1282.6,636 1282.9,693.8 1283.3,693.7 1283.7,678.3 1284,696.5 1284.4,681.5 1284.8,670.3 1285.1,699.4 1285.5,688.1 1285.9,646 1286.3,697.4 1286.6,690.4 1287,676.4 1287.4,679.7 1287.7,684.2 1288.1,699.3 1288.5,676 1288.8,697 1289.2,692.7 1289.6,697.2 1289.9,689.3 1290.3,684.2 1290.7,699.5 1291,691.8 1291.4,680.9 1291.8,674.5 1292.1,699.5 1292.5,697 1292.9,698.8 1293.2,701 1293.6,686.8 1294,701.2 1294.3,697.3 1294.7,658.4 1295.1,673.4 1295.4,700.3 1295.8,697.3 1296.2,698.5 1296.6,701.9 1296.9,671 1297.3,672 1297.7,692 1298,699.3 1298.4,701.9 1298.8,673.1 1299.1,687.8 1299.5,698.1 1299.9,664.3 1300.2,697.5 1300.6,653 1301,700.4 1301.3,676.4 1301.7,685.1 1302.1,691.1 1302.4,699 1302.8,668.9 1303.2,697.8 1303.5,692.9 1303.9,697.8 1304.3,695.1 1304.6,694.9 1305,688.6 1305.4,701.2 1305.7,702.2 1306.1,694.3 1306.5,700.8 1306.9,681.7 1307.2,681.6 1307.6,694.4 1308,686.8 1308.3,692.5 1308.7,690.5 1309.1,700.4 1309.4,700.8 1309.8,700.6 1310.2,696.6 1310.5,683 1310.9,695 1311.3,701.7 1311.6,686.9 1312,672.2 1312.4,701.5 1312.7,686.1 1313.1,701.8 1313.5,684.2 1313.8,669.7 1314.2,691.5 1314.6,699.5 1314.9,678.6 1315.3,696.4 1315.7,697.3 1316,691.2 1316.4,692.3 1316.8,694.9 1317.2,688.5 1317.5,687.2 1317.9,694.1 1318.3,700.6 1318.6,701.3 1319,695.9 1319.4,697.2 1319.7,674.4 1320.1,698.5 1320.5,697.4 1320.8,669.6 1321.2,682.6 1321.6,690.2 1321.9,699 1322.3,677.7 1322.7,688.9 1323,702 1323.4,688.4 1323.8,676.7 1324.1,664.2 1324.5,699.9 1324.9,660.7 1325.2,690.4 1325.6,676.3 1326,698.6 1326.4,700.5 1326.7,701.2 1327.1,701.9 1327.5,696.8 1327.8,700.7 1328.2,690.8 1328.6,695.9 1328.9,691.6 1329.3,671.4 1329.7,699.7 1330,700.7 1330.4,668.9 1330.8,692 1331.1,689 1331.5,697.6 1331.9,682.3 1332.2,693 1332.6,690.5 1333,701.9 1333.3,701 1333.7,700.4 1334.1,696.7 1334.4,687.8 1334.8,689.9 1335.2,668.8 1335.5,683.8 1335.9,694.9 1336.3,699.9 1336.7,665.3 1337,678.7 1337.4,702.1 1337.8,702.1 1338.1,691.5 1338.5,689.9 1338.9,684.3 1339.2,700.8 1339.6,696.1 1340,679.3 1340.3,701.6 1340.7,700.7 1341.1,669.7 1341.4,687.8 1341.8,699.3 1342.2,700.8 1342.5,697.4 1342.9,612.4 1343.3,636 1343.6,690 1344,701 1344.4,684.7 1344.7,694.7 1345.1,693.6 1345.5,699.6 1345.8,699.7 1346.2,701.1 1346.6,687.8 1347,681.1 1347.3,698.5 1347.7,686.8 1348.1,691.9 1348.4,686.7 1348.8,692.9 1349.2,689.6 1349.5,701.7 1349.9,692.9 1350.3,684.3 1350.6,668.6 1351,691.8 1351.4,697.8 1351.7,697 1352.1,698.8 1352.5,674 1352.8,699 1353.2,690.2 1353.6,630.5 1353.9,693.9 1354.3,693.2 1354.7,696.6 1355,694 1355.4,675 1355.8,695.7 1356.1,696.2 1356.5,700.6 1356.9,698.2 1357.3,699.8 1357.6,697.3 1358,701.8 1358.4,696.4 1358.7,687.4 1359.1,701.8 1359.5,698.9 1359.8,686 1360.2,693.3 1360.6,691.6 1360.9,701.7 1361.3,692.1 1361.7,693.1 1362,692.9 1362.4,676.6 1362.8,683 1363.1,692.8 1363.5,698.4 1363.9,686.9 1364.2,632.2 1364.6,589.2 1365,614.8 1365.3,597.9 1365.7,593.7 1366.1,645.1 1366.5,619.9 1366.8,618.7 1367.2,563.5 1367.6,638.4 1367.9,549.6 1368.3,576.8 1368.7,666.7 1369,579.3 1369.4,629.2 1369.8,663.2 1370.1,667.6 1370.5,560.6 1370.9,587.2 1371.2,605.3 1371.6,614.3 1372,565.5 1372.3,606.3 1372.7,589.1 1373.1,677.9 1373.4,566.8 1373.8,653.8 1374.2,674 1374.5,616.4 1374.9,650.8 1375.3,567 1375.6,602.5 1376,560 1376.4,596.9 1376.8,600.1 1377.1,645 1377.5,672 1377.9,620.1 1378.2,624.7 1378.6,635.4 1379,589 1379.3,582.7 1379.7,639.4 1380.1,650.6 1380.4,653.9 1380.8,656.7 1381.2,679.4 1381.5,595.4 1381.9,620.2 1382.3,680 1382.6,673.8 1383,661.3 1383.4,621.4 1383.7,665.4 1384.1,658.5 1384.5,657.7 1384.8,610.2 1385.2,659.4 1385.6,591.2 1385.9,558.4 1386.3,562.5 1386.7,643.3 1387.1,632.5 1387.4,657 1387.8,614.4 1388.2,546 1388.5,558.9 1388.9,563.5 1389.3,637.7 1389.6,677.8 1390,582.3 1390.4,628.7 1390.7,604.3 1391.1,617.1 1391.5,595.2 1391.8,611.7 1392.2,564.4 1392.6,619.3 1392.9,622 1393.3,609.5 1393.7,605.5 1394,597.2 1394.4,603.2 1394.8,601.9 1395.1,653.8 1395.5,585.5 1395.9,582.6 1396.3,681 1396.6,662.2 1397,555.4 1397.4,678.3 1397.7,571.1 1398.1,558 1398.5,612.9 1398.8,673.6 1399.2,644.9 1399.6,656.3 1399.9,632.8 1400.3,682.6 1400.7,667.7 1401,561.6 1401.4,681.9 1401.8,612 1402.1,617.3 1402.5,655.7 1402.9,646.6 1403.2,687.1 1403.6,584.9 1404,671.4 1404.3,570.8 1404.7,596.7 1405.1,560.5 1405.4,583.7 1405.8,663 1406.2,669.9 1406.6,566.1 1406.9,595.6 1407.3,588 1407.7,585 1408,573.2 1408.4,690 1408.8,621 1409.1,661 1409.5,629.7 1409.9,652.9 1410.2,582.6 1410.6,595.6 1411,671.6 1411.3,544.6 1411.7,674.2 1412.1,591.7 1412.4,557.2 1412.8,585 1413.2,659.2 1413.5,697.1 1413.9,629.2 1414.3,611.6 1414.6,588 1415,636.9 1415.4,636.6 1415.7,685.6 1416.1,620.2 1416.5,586.9 1416.9,698.2 1417.2,691.5 1417.6,650.2 1418,645.5 1418.3,688 1418.7,654.5 1419.1,689.2 1419.4,679.4 1419.8,694.4 1420.2,688.7 1420.5,684.8 1420.9,700.5 1421.3,665.4 1421.6,675.7 1422,660.4 1422.4,662.1 1422.7,661.6 1423.1,700.5 1423.5,688 1423.8,695.4 1424.2,686.7 1424.6,657.1 1424.9,608 1425.3,689.3 1425.7,638.9 1426,659 1426.4,701.9 1426.8,687.7 1427.2,639.2 1427.5,640.6 1427.9,679.1 1428.3,646 1428.6,690.5 1429,684.8 1429.4,684.6 1429.7,694 1430.1,684.3 1430.5,685 1430.8,655.6 1431.2,681.4 1431.6,683 1431.9,677.2 1432.3,694.6 1432.7,669.7 1433,664.9 1433.4,650.9 1433.8,697.4 1434.1,674 1434.5,696.8 1434.9,701.3 1435.2,666.1 1435.6,670.1 1436,607 1436.4,639.5 1436.7,694 1437.1,690.4 1437.5,667.8 1437.8,669.8 1438.2,682.9 1438.6,683.2 1438.9,650.7 1439.3,682 1439.7,656.6 1440,672 1440.4,675.5 1440.8,686.2 1441.1,696.9 1441.5,691.8 1441.9,700 1442.2,668.4 1442.6,638.5 1443,698.2 1443.3,699.8 1443.7,699.1 1444.1,635.2 1444.4,693.4 1444.8,656.9 1445.2,675.2 1445.5,682.6 1445.9,680.1 1446.3,684.2 1446.7,683.1 1447,635.5 1447.4,664.7 1447.8,685.7 1448.1,606 1448.5,697.4 1448.9,663.3 1449.2,670.2 1449.6,688 1450,677.1 1450.3,673.6 1450.7,665.8 1451.1,670.7 1451.4,682.4 1451.8,674 1452.2,690.3 1452.5,682.2 1452.9,674.2 1453.3,687 1453.6,688 1454,674.9 1454.4,688.8 1454.7,695.3 1455.1,699.3 1455.5,697.4 1455.8,699.8 1456.2,662.4 1456.6,690.1 1457,694.2 1457.3,688.8 1457.7,686.8 1458.1,701.2 1458.4,690.9 1458.8,672.7 1459.2,484.8 1459.5,523 1459.9,592.8 1460.3,696.4 1460.6,675.4 1461,696.6 1461.4,694.7 1461.7,667.2 1462.1,679.3 1462.5,692 1462.8,692.8 1463.2,673.5 1463.6,675.7 1463.9,695.2 1464.3,686.5 1464.7,691.9 1465,701.3 1465.4,690.5 1465.8,682.1 1466.1,699.9 1466.5,701.9 1466.9,694.5 1467.3,693.6 1467.6,701 1468,690.9 1468.4,687.6 1468.7,690.2 1469.1,692.6 1469.5,667.4 1469.8,682.2 1470.2,699 1470.6,674.1 1470.9,670.1 1471.3,697.9 1471.7,701.2 1472,691.3 1472.4,695.4 1472.8,662.6 1473.1,616 1473.5,680.5 1473.9,615.4 1474.2,665.6 1474.6,699.3 1475,647.6 1475.3,678.8 1475.7,658 1476.1,700.6 1476.5,697.2 1476.8,695.3 1477.2,690.4 1477.6,662.9 1477.9,692.1 1478.3,687.3 1478.7,698.8 1479,664.7 1479.4,699.2 1479.8,682.1 1480.1,677.7 1480.5,698.9 1480.9,699.5 1481.2,699.1 1481.6,697.3 1482,694.6 1482.3,680.4 1482.7,691.1 1483.1,699.9 1483.4,681 1483.8,682.3 1484.2,693.3 1484.5,665.7 1484.9,682.5 1485.3,692.4 1485.6,688.6 1486,696 1486.4,699.3 1486.8,701.5 1487.1,697.2 1487.5,687.3 1487.9,689.1 1488.2,701.3 1488.6,684.3 1489,700.7 1489.3,683.2 1489.7,699.4 1490.1,688.4 1490.4,694.9 1490.8,697.3 1491.2,682.8 1491.5,680.2 1491.9,641.5 1492.3,687.9 1492.6,693.1 1493,699 1493.4,685.5 1493.7,634.2 1494.1,694.5 1494.5,700.1 1494.8,701.2 1495.2,691.6 1495.6,666.4 1495.9,698.3 1496.3,694 1496.7,693.9 1497.1,696.6 1497.4,692.5 1497.8,691.3 1498.2,675.5 1498.5,645.4 1498.9,695.3 1499.3,674.6 1499.6,701.6 1500,699.7 1500.4,693.7 1500.7,693.7 1501.1,697.9 1501.5,657.1 1501.8,695.9 1502.2,700.9 1502.6,685.4 1502.9,685.8 1503.3,698.4 1503.7,680.9 1504,687 1504.4,664.6 1504.8,659.4 1505.1,654.5 1505.5,686.6 1505.9,698.3 1506.2,662.6 1506.6,691.1 1507,673.3 1507.4,648.4 1507.7,458 1508.1,553 1508.5,600 1508.8,695.2 1509.2,700.7 1509.6,694.6 1509.9,685.8 1510.3,699.1 1510.7,672.5 1511,697.5 1511.4,686.7 1511.8,668.6 1512.1,681.6 1512.5,681 1512.9,666.9 1513.2,680.1 1513.6,693 1514,631.1 1514.3,685.1 1514.7,699.1 1515.1,691.9 1515.4,693.9 1515.8,671.2 1516.2,495.7 1516.6,519.7 1516.9,553 1517.3,619 1517.7,669 1518,687.6 1518.4,691.8 1518.8,692.1 1519.1,682.4 1519.5,664.3 1519.9,679.6 1520.2,685.8 1520.6,672.3 1521,694.4 1521.3,690 1521.7,672.1 1522.1,682 1522.4,700.1 1522.8,643.1 1523.2,700.6 1523.5,683.7 1523.9,689.1 1524.3,698.3 1524.6,658.3 1525,677.7 1525.4,700.5 1525.7,686.2 1526.1,647.6 1526.5,698.2 1526.9,662.9 1527.2,694.1 1527.6,694 1528,670.7 1528.3,693.7 1528.7,668.9 1529.1,694.5 1529.4,657.8 1529.8,699.7 1530.2,676.9 1530.5,702 1530.9,692 1531.3,680.5 1531.6,693.1 1532,685.2 1532.4,698.1 1532.7,694.4 1533.1,693 1533.5,702 1533.8,691.7 1534.2,699.6 1534.6,685.9 1534.9,676.2 1535.3,645 1535.7,675.9 1536,702.2 1536.4,661.8 1536.8,700.8 1537.2,640.5 1537.5,677.4 1537.9,673.7 1538.3,634.2 1538.6,698.1 1539,665.7 1539.4,690.2 1539.7,609.3 1540.1,617.4 1540.5,682.3 1540.8,694 1541.2,626.6 1541.6,693.4 1541.9,698.6 1542.3,636.3 1542.7,699.6 1543,685.9 1543.4,692.3 1543.8,701.5 1544.1,697.7 1544.5,665.1 1544.9,646.5 1545.2,696.6 1545.6,690.6 1546,699.4 1546.4,667.3 1546.7,697 1547.1,701.5 1547.5,678.1 1547.8,687 1548.2,700.9 1548.6,641.1 1548.9,666.6 1549.3,673.3 1549.7,680.3 1550,667.9 1550.4,694.9 1550.8,700.4 1551.1,699.2 1551.5,691.1 1551.9,679 1552.2,675.3 1552.6,454.8 1553,562.9 1553.3,603 1553.7,622 1554.1,698.4 1554.4,657.5 1554.8,675.6 1555.2,694.6 1555.5,686.1 1555.9,668 1556.3,698.6 1556.7,636.6 1557,688.1 1557.4,701.6 1557.8,683 1558.1,614.6 1558.5,654.3 1558.9,695.7 1559.2,681.3 1559.6,687.9 1560,686.8 1560.3,689.7 1560.7,661.3 1561.1,626.7 1561.4,674.7 1561.8,640.5 1562.2,687.7 1562.5,662.7 1562.9,657.7 1563.3,697.6 1563.6,686.2 1564,694.8 1564.4,683.5 1564.7,690.1 1565.1,689.1 1565.5,690.8 1565.8,690.8 1566.2,676.8 1566.6,645.2 1567,690.4 1567.3,700.6 1567.7,698.9 1568.1,658.5 1568.4,699.1 1568.8,694.8 1569.2,619.7 1569.5,657.3 1569.9,691 1570.3,696.2 1570.6,672.6 1571,691.4 1571.4,647.3 1571.7,666.3 1572.1,586 1572.5,642 1572.8,607.4 1573.2,689.4 1573.6,695.2 1573.9,690.3 1574.3,694.5 1574.7,682.2 1575,660.6 1575.4,678.9 1575.8,695.3 1576.1,646.4 1576.5,663.9 1576.9,647.4 1577.3,677.5 1577.6,660.4 1578,692.3 1578.4,680 1578.7,692.5 1579.1,675.1 1579.5,692.3 1579.8,677.9 1580.2,696.4 1580.6,689.3 1580.9,561.9 1581.3,688.9 1581.7,667.8 1582,649.7 1582.4,683.6 1582.8,670.2 1583.1,690.6 1583.5,679.8 1583.9,649.7 1584.2,685.9 1584.6,696.5 1585,693.1 1585.3,648.6 1585.7,637.2 1586.1,696.8 1586.5,696 1586.8,686.9 1587.2,694 1587.6,696.2 1587.9,698.9 1588.3,676.3 1588.7,702 1589,611 1589.4,670.1 1589.8,693.8 1590.1,675.2 1590.5,671.2 1590.9,686.6 1591.2,661 1591.6,675.9 1592,687 1592.3,697.5 1592.7,658.8 1593.1,660.1 1593.4,667.7 1593.8,698.8 1594.2,659 1594.5,674.4 1594.9,647.9 1595.3,700.3 1595.6,668.4 1596,700.3 1596.4,694.1 1596.8,697.7 1597.1,660.2 1597.5,673.3 1597.9,661.6 1598.2,697.8 1598.6,645 1599,695.5 1599.3,696.5 1599.7,628.8 1600.1,693 1600.4,697.3 1600.8,701.2 1601.2,614 1601.5,699.8 1601.9,683.7 1602.3,689.5 1602.6,660.4 1603,677.5 1603.4,680.8 1603.7,699.2 1604.1,692.3 1604.5,695.8 1604.8,693.7 1605.2,683 1605.6,699.1 1605.9,675.3 1606.3,649.2 1606.7,677.8 1607.1,700.5 1607.4,700.9 1607.8,697.2 1608.2,698.8 1608.5,685.6 1608.9,689.7 1609.3,673.6 1609.6,699 1610,674.1 1610.4,662.3 1610.7,685.6 1611.1,700.4 1611.5,699.6 1611.8,702 1612.2,692.5 1612.6,696.5 1612.9,689.4 1613.3,673.6 1613.7,699.2 1614,684 1614.4,692.3 1614.8,685 1615.1,700 1615.5,688.5 1615.9,685.7 1616.2,689.8 1616.6,699.3 1617,666.2 1617.4,698.1 1617.7,693.8 1618.1,546 1618.5,602.7 1618.8,630 1619.2,691 1619.6,693.4 1619.9,698.7 1620.3,698.1 1620.7,691.5 1621,691 1621.4,696.6 1621.8,695.9 1622.1,664.7 1622.5,681.6 1622.9,699.2 1623.2,677.6 1623.6,694.3 1624,688.7 1624.3,699.5 1624.7,697.7 1625.1,665.8 1625.4,700.8 1625.8,689.9 1626.2,697.7 1626.6,695.8 1626.9,694.7 1627.3,685.9 1627.7,675.2 1628,687.5 1628.4,699.5 1628.8,700.7 1629.1,690.7 1629.5,657.8 1629.9,688.1 1630.2,694.6 1630.6,690.6 1631,698.6 1631.3,688.9 1631.7,700.4 1632.1,681.7 1632.4,699.9 1632.8,700.8 1633.2,698 1633.5,697.9 1633.9,698.7 1634.3,661.7 1634.6,693.5 1635,700.1 1635.4,683.9 1635.7,702 1636.1,689.5 1636.5,664.9 1636.9,674.2 1637.2,692 1637.6,697 1638,701.9 1638.3,667.1 1638.7,679.5 1639.1,699.7 1639.4,687.8 1639.8,661.3 1640.2,696 1640.5,689.2 1640.9,689.6 1641.3,684 1641.6,677.9 1642,695.8 1642.4,701.8 1642.7,666.6 1643.1,700.2 1643.5,687.5 1643.8,699.3 1644.2,691.1 1644.6,669.4 1644.9,696.6 1645.3,699.2 1645.7,684.3 1646,692.7 1646.4,690.1 1646.8,695.9 1647.2,699 1647.5,697.4 1647.9,657.3 1648.3,700.5 1648.6,685.6 1649,697.1 1649.4,691 1649.7,697 1650.1,685.8 1650.5,677 1650.8,699.4 1651.2,684.7 1651.6,700.3 1651.9,700.7 1652.3,689 1652.7,699.9 1653,681.9 1653.4,699.7 1653.8,692.7 1654.1,688.7 1654.5,680.8 1654.9,688 1655.2,686.9 1655.6,699.6 1656,675 1656.3,695.4 1656.7,685.4 1657.1,693.4 1657.5,699.6 1657.8,698.5 1658.2,686.7 1658.6,687.9 1658.9,611.6 1659.3,625 1659.7,646 1660,701.2 1660.4,686 1660.8,701.8 1661.1,683.2 1661.5,694 1661.9,700.6 1662.2,701.6 1662.6,696.5 1663,694.4 1663.3,697.4 1663.7,695 1664.1,697.3 1664.4,701 1664.8,700.1 1665.2,680.4 1665.5,689.3 1665.9,680.2 1666.3,700.8 1666.7,701.6 1667,699.2 1667.4,699.5 1667.8,701.6 1668.1,699.6 1668.5,694.2 1668.9,695 1669.2,699.8 1669.6,676.8 1670,700 1670.3,685 1670.7,701 1671.1,697.5 1671.4,697.5 1671.8,702 1672.2,692.8 1672.5,690.8 1672.9,694.4 1673.3,677.7 1673.6,699.3 1674,701.4 1674.4,699.2 1674.7,702.2 1675.1,698.4 1675.5,700.2 1675.8,691.2 1676.2,691.3 1676.6,697.6 1677,695.1 1677.3,696.2 1677.7,698.9 1678.1,695.1 1678.4,685.3 1678.8,698.4 1679.2,693.6 1679.5,702.2 1679.9,696.2 1680.3,698.1 1680.6,697.2 1681,701.5 1681.4,696.3 1681.7,676.7 1682.1,696.4 1682.5,698.8 1682.8,687.8 1683.2,700.9 1683.6,698.9 1683.9,690.4 1684.3,702.1 1684.7,700.1 1685,671.9 1685.4,701.1 1685.8,699.3 1686.1,700.3 1686.5,696.8 1686.9,692.8 1687.3,690.9 1687.6,633 1688,696.7 1688.4,698 1688.7,699.4 1689.1,702.1 1689.5,697.1 1689.8,694.1 1690.2,698.3 1690.6,691.6 1690.9,701.5 1691.3,690 1691.7,688.9 1692,698.3 1692.4,695 1692.8,696.5 1693.1,698 1693.5,686.3 1693.9,694.4 1694.2,700.4 1694.6,685.9 1695,672.4 1695.3,678.9 1695.7,677.1 1696.1,689.6 1696.5,697.5 1696.8,673.5 1697.2,697.4 1697.6,684.1 1697.9,702.1 1698.3,686.4 1698.7,669.2 1699,697.3 1699.4,689.3 1699.8,700 1700.1,699.6 1700.5,695.4 1700.9,677.7 1701.2,691.6 1701.6,687.2 1702,693.8 1702.3,695.4 1702.7,688.6 1703.1,701.4 1703.4,690.9 1703.8,698.9 1704.2,700.7 1704.5,687.7 1704.9,701.8 1705.3,699.4 1705.6,697.5 1706,693.8 1706.4,689.8 1706.8,696.5 1707.1,700.1 1707.5,685.6 1707.9,701 1708.2,702.2 1708.6,694.8 1709,694.8 1709.3,701.6 1709.7,684.9 1710.1,677 1710.4,700.6 1710.8,700.6 1711.2,694.6 1711.5,696.2 1711.9,689.2 1712.3,698.8 1712.6,701.2 1713,699 1713.4,679.9 1713.7,686.8 1714.1,701.3 1714.5,687.8 1714.8,683.2 1715.2,700.8 1715.6,698.9 1715.9,690.4 1716.3,698.8 1716.7,695.3 1717.1,679.8 1717.4,698.2 1717.8,699.8 1718.2,701.1 1718.5,695.6 1718.9,699.4 1719.3,692.6 1719.6,694.9 1720,695.5 1720.4,699.1 1720.7,698.4 1721.1,699.1 1721.5,696 1721.8,695.1 1722.2,697.6 1722.6,700.8 1722.9,658.8 1723.3,692.3 1723.7,697.9 1724,697.6 1724.4,692.6 1724.8,676.6 1725.1,695 1725.5,699.9 1725.9,692 1726.2,699.1 1726.6,687.6 1727,687.1 1727.4,691.8 1727.7,692.3 1728.1,689.4 1728.5,694.8 1728.8,679.1 1729.2,697.4 1729.6,701.7 1729.9,680.9 1730.3,700.5 1730.7,697 1731,695.6 1731.4,700.6 1731.8,701.1 1732.1,698.8 1732.5,694.4 1732.9,695.6 1733.2,693.9 1733.6,690.9 1734,694 1734.3,683.6 1734.7,695.9 1735.1,695.7 1735.4,684.5 1735.8,690.7 1736.2,699 1736.6,699.7 1736.9,698.8 1737.3,701.7 1737.7,689.5 1738,690.8 1738.4,701.1 1738.8,698.7 1739.1,687 1739.5,698.2 1739.9,701.9 1740.2,698 1740.6,701.5 1741,701.6 1741.3,684.9 1741.7,699.3 1742.1,690.1 1742.4,697.7 1742.8,698 1743.2,698.5 1743.5,686.1 1743.9,684.5 1744.3,696.9 1744.6,695.7 1745,696.8 1745.4,687.6 1745.7,697.3 1746.1,699.7 1746.5,698.2 1746.9,700.5 1747.2,697.4 1747.6,699.9 1748,699.1 1748.3,694.6 1748.7,674.4 1749.1,696.7 1749.4,692.5 1749.8,697.1 1750.2,676.4 1750.5,699.2 1750.9,684.5 1751.3,695.1 1751.6,679.7 1752,691.2 1752.4,695.9 1752.7,689 1753.1,680.7 1753.5,698.5 1753.8,695.4 1754.2,697.3 1754.6,700.2 1754.9,699.2 1755.3,678.1 1755.7,697.7 1756,684.9 1756.4,694.6 1756.8,678.3 1757.2,699.6 1757.5,671.2 1757.9,685 1758.3,698.2 1758.6,682.1 1759,691.3 1759.4,696.8 1759.7,689.7 1760.1,701.2 1760.5,701 1760.8,696.8 1761.2,693.1 1761.6,681.5 1761.9,677.8 1762.3,697.3 1762.7,700.7 1763,688.2 1763.4,700.8 1763.8,691.9 1764.1,699 1764.5,700.9 1764.9,696 1765.2,687.5 1765.6,694.7 1766,692 1766.3,696.7 1766.7,691 1767.1,644.5 1767.5,655 1767.8,674.6 1768.2,699 1768.6,696.6 1768.9,692.2 1769.3,700.5 1769.7,695.2 1770,694.1 1770.4,685.1 1770.8,701.2 1771.1,684 1771.5,698.7" fill="none" stroke="#042ce2" stroke-width="3.4" stroke-linejoin="round" marker-start="url(#ma)" marker-mid="url(#ma)" marker-end="url(#ma)"/>
<path d="M297.5,574H333V596.5H369.5V573H407V487H443V479.4H480V468.4H517V455.7H554V437.5H591V426.7H628V256.3H666V297H702V367H738V399H776.5V502H812V438H849V532.3H886V530.4H922.5V545.5H959V553.8H996V556.9H1033V562.5H1070V571.2H1107V594.6H1143V597.6H1180V605H1217V607.8H1254V610.5H1290V605H1327V618H1364" fill="none" stroke="#ee1438" stroke-width="4.2" stroke-dasharray="32.6 20.4" stroke-dashoffset="0" stroke-linecap="butt" stroke-linejoin="miter"/>
<path d="M1364,618V552.2H1401V552.2H1438V470.5H1474.6V481.4H1512.8V470.5H1547.7V458.2H1585V456.5H1622.5V489.7H1659" fill="none" stroke="#ee1438" stroke-width="4.2" stroke-dasharray="32.5 20.8" stroke-dashoffset="19.4" stroke-linecap="butt" stroke-linejoin="miter"/>
<path d="M1659,489.7V583.8H1697.3V610H1734V599.8H1772.5" fill="none" stroke="#ee1438" stroke-width="4.2" stroke-dasharray="32.5 20.8" stroke-dashoffset="0" stroke-linecap="butt" stroke-linejoin="miter"/>
<defs><marker id="mb" markerUnits="userSpaceOnUse" markerWidth="12" markerHeight="12" refX="6" refY="6" overflow="visible"><circle cx="6" cy="6" r="5.0" fill="#042ce2"/></marker></defs>
<path d="M2115,504L2115.4,630 2115.7,681.9 2116.1,706.6 2116.5,707.2 2116.8,709 2117.2,691.9 2117.6,697.8 2117.9,630.5 2118.3,702.4 2118.7,685.6 2119,691.3 2119.4,706.9 2119.8,705.5 2120.2,694 2120.5,704.9 2120.9,708.5 2121.3,674.1 2121.6,696.1 2122,696.1 2122.4,686.1 2122.7,702.4 2123.1,689.9 2123.5,688.3 2123.8,702.5 2124.2,704.8 2124.6,702.9 2124.9,701.9 2125.3,705.4 2125.7,688.4 2126,700.7 2126.4,708.3 2126.8,693.4 2127.1,702.5 2127.5,702.7 2127.9,707.9 2128.2,708.5 2128.6,696.1 2129,700.1 2129.3,695.5 2129.7,690.7 2130.1,685.2 2130.5,706.2 2130.8,645 2131.2,705.9 2131.6,700.1 2131.9,707.8 2132.3,708.3 2132.7,707.9 2133,707.7 2133.4,702.7 2133.8,704.8 2134.1,667 2134.5,684.6 2134.9,708.1 2135.2,697.3 2135.6,703.1 2136,703.2 2136.3,706.2 2136.7,699.8 2137.1,702.2 2137.4,702.7 2137.8,633 2138.2,708.1 2138.5,707.6 2138.9,702.2 2139.3,705.1 2139.6,703.8 2140,706.8 2140.4,708.1 2140.8,693.8 2141.1,701.9 2141.5,691.5 2141.9,688.6 2142.2,706.6 2142.6,691.3 2143,692.4 2143.3,701.9 2143.7,708.8 2144.1,683.8 2144.4,683.4 2144.8,694.5 2145.2,702.5 2145.5,707 2145.9,701.1 2146.3,702.1 2146.6,696.5 2147,700.1 2147.4,706.4 2147.7,694.3 2148.1,703.1 2148.5,694.4 2148.8,706.9 2149.2,708.1 2149.6,709.1 2150,680.9 2150.3,707.2 2150.7,709 2151.1,686.7 2151.4,705.1 2151.8,685.8 2152.2,708 2152.5,694.5 2152.9,695.6 2153.3,705.3 2153.6,708.3 2154,704 2154.4,686.2 2154.7,643.7 2155.1,706 2155.5,708.7 2155.8,695.6 2156.2,702 2156.6,688.1 2156.9,686.4 2157.3,706.7 2157.7,707.9 2158,704.6 2158.4,663.8 2158.8,705.1 2159.1,708 2159.5,704.8 2159.9,693.9 2160.3,692.5 2160.6,706.4 2161,699.2 2161.4,696.5 2161.7,682.5 2162.1,693.2 2162.5,692.3 2162.8,669.7 2163.2,702.4 2163.6,698.6 2163.9,698.7 2164.3,696.7 2164.7,684.6 2165,690.6 2165.4,703.2 2165.8,704.3 2166.1,696.9 2166.5,694.6 2166.9,709 2167.2,706.9 2167.6,708.4 2168,662.6 2168.3,705.3 2168.7,685.8 2169.1,703.1 2169.4,680.9 2169.8,682.4 2170.2,698.9 2170.6,704.5 2170.9,705.8 2171.3,680.8 2171.7,706.3 2172,663.6 2172.4,705.2 2172.8,709.2 2173.1,706.6 2173.5,704.9 2173.9,706.1 2174.2,703.9 2174.6,703.9 2175,705.8 2175.3,673.2 2175.7,704.5 2176.1,698 2176.4,702.2 2176.8,704.5 2177.2,657.7 2177.5,697.5 2177.9,605 2178.3,655 2178.6,677.1 2179,682.2 2179.4,692.4 2179.8,702 2180.1,704 2180.5,680.9 2180.9,666 2181.2,663.5 2181.6,685.1 2182,702.6 2182.3,688.2 2182.7,696.9 2183.1,680.9 2183.4,704.1 2183.8,704.2 2184.2,689.5 2184.5,694.5 2184.9,692.4 2185.3,697.5 2185.6,696.4 2186,706.7 2186.4,683.6 2186.7,700.1 2187.1,690.4 2187.5,703.6 2187.8,702.1 2188.2,706.1 2188.6,604 2188.9,701 2189.3,707.6 2189.7,699.9 2190.1,688.9 2190.4,693.9 2190.8,704.3 2191.2,705.5 2191.5,699.9 2191.9,705.9 2192.3,705.8 2192.6,686.6 2193,697.9 2193.4,707.4 2193.7,709.2 2194.1,678.7 2194.5,697.3 2194.8,689.8 2195.2,696 2195.6,705.7 2195.9,687.9 2196.3,704.8 2196.7,302.9 2197,463 2197.4,600 2197.8,707.8 2198.1,706.3 2198.5,708.9 2198.9,709 2199.3,707.5 2199.6,689.5 2200,703.5 2200.4,687.9 2200.7,702.6 2201.1,681.2 2201.5,687.1 2201.8,651 2202.2,708.9 2202.6,703.2 2202.9,690.5 2203.3,699.5 2203.7,663.9 2204,668.6 2204.4,698.9 2204.8,696 2205.1,692.7 2205.5,708 2205.9,704.5 2206.2,701.6 2206.6,673.9 2207,694.9 2207.3,704.1 2207.7,709 2208.1,692.2 2208.4,696.8 2208.8,693.2 2209.2,705.7 2209.6,696.9 2209.9,694.1 2210.3,689.1 2210.7,707.4 2211,684.7 2211.4,708.3 2211.8,704.1 2212.1,702.7 2212.5,704.3 2212.9,678.3 2213.2,703.4 2213.6,660 2214,693.6 2214.3,698 2214.7,696.1 2215.1,696 2215.4,687.6 2215.8,650.3 2216.2,706.3 2216.5,704 2216.9,681.3 2217.3,698.5 2217.6,685.8 2218,703.5 2218.4,659.2 2218.7,706.2 2219.1,701.5 2219.5,698.3 2219.9,689.3 2220.2,706 2220.6,695.2 2221,695.3 2221.3,697.9 2221.7,708.5 2222.1,704.1 2222.4,694.8 2222.8,552.3 2223.2,561 2223.5,572 2223.9,583 2224.3,664.9 2224.6,682.8 2225,692.2 2225.4,676.8 2225.7,655.1 2226.1,697.3 2226.5,699.9 2226.8,687.6 2227.2,698 2227.6,669.7 2227.9,697.2 2228.3,680.8 2228.7,696.5 2229.1,659.8 2229.4,688.9 2229.8,652.2 2230.2,679.7 2230.5,652.6 2230.9,675.2 2231.3,686.6 2231.6,695.8 2232,647.7 2232.4,703.6 2232.7,664.2 2233.1,665.2 2233.5,668.7 2233.8,676.8 2234.2,689 2234.6,682.3 2234.9,652.5 2235.3,699.4 2235.7,658.3 2236,587.8 2236.4,598 2236.8,651.1 2237.1,668.1 2237.5,670.8 2237.9,671.1 2238.2,654.4 2238.6,664.5 2239,648.3 2239.4,668.9 2239.7,646.3 2240.1,677 2240.5,671.8 2240.8,649.9 2241.2,669.6 2241.6,688 2241.9,656.8 2242.3,669.5 2242.7,678.2 2243,672.6 2243.4,613.5 2243.8,675.5 2244.1,685.9 2244.5,650.5 2244.9,660.3 2245.2,682.6 2245.6,648.2 2246,667.7 2246.3,685.4 2246.7,668.2 2247.1,662.9 2247.4,663.5 2247.8,685.1 2248.2,670.6 2248.5,687.1 2248.9,688.4 2249.3,691.3 2249.7,669.5 2250,623 2250.4,672.9 2250.8,671.8 2251.1,648.3 2251.5,671.6 2251.9,653.7 2252.2,691.2 2252.6,704.2 2253,675.3 2253.3,668.5 2253.7,651.9 2254.1,699.8 2254.4,671.2 2254.8,649.1 2255.2,687.2 2255.5,693 2255.9,685.8 2256.3,658.3 2256.6,651.5 2257,673.5 2257.4,676.6 2257.7,665.4 2258.1,672 2258.5,684.2 2258.9,657.2 2259.2,681.7 2259.6,668.1 2260,675.5 2260.3,680.5 2260.7,702.5 2261.1,684 2261.4,679.3 2261.8,679.8 2262.2,658.2 2262.5,687.1 2262.9,652.7 2263.3,646.4 2263.6,672.1 2264,649.5 2264.4,659 2264.7,665.1 2265.1,677.4 2265.5,700.9 2265.8,655.4 2266.2,647.9 2266.6,683.8 2266.9,682.4 2267.3,695.7 2267.7,659.3 2268,659.5 2268.4,653.9 2268.8,693.2 2269.2,675.6 2269.5,690.3 2269.9,665 2270.3,648.4 2270.6,657.1 2271,688.3 2271.4,652.1 2271.7,668.9 2272.1,697.6 2272.5,672.4 2272.8,646.7 2273.2,672.6 2273.6,682.8 2273.9,666.4 2274.3,692.2 2274.7,675 2275,684.3 2275.4,676.9 2275.8,682.4 2276.1,656 2276.5,698.4 2276.9,699 2277.2,671.3 2277.6,689.7 2278,683.9 2278.3,650.1 2278.7,683.4 2279.1,671.4 2279.5,681.4 2279.8,693.9 2280.2,644.1 2280.6,652.4 2280.9,665.8 2281.3,662.9 2281.7,646.7 2282,691.7 2282.4,680.1 2282.8,649.2 2283.1,663.6 2283.5,657.1 2283.9,679.6 2284.2,655.5 2284.6,697.5 2285,680.2 2285.3,686.9 2285.7,652.9 2286.1,668.2 2286.4,679.2 2286.8,698.2 2287.2,688.9 2287.5,668.4 2287.9,692.5 2288.3,654.2 2288.7,662.3 2289,697.6 2289.4,704.7 2289.8,652.8 2290.1,653.3 2290.5,699 2290.9,700.4 2291.2,647.2 2291.6,684.9 2292,684.5 2292.3,679.3 2292.7,670.5 2293.1,696.4 2293.4,686.6 2293.8,673.6 2294.2,683.2 2294.5,693.1 2294.9,703.6 2295.3,681.3 2295.6,657.6 2296,685.5 2296.4,677.7 2296.7,695.7 2297.1,680.2 2297.5,680 2297.8,674.7 2298.2,669.2 2298.6,658.1 2299,653.7 2299.3,695.5 2299.7,673.8 2300.1,700.5 2300.4,659.6 2300.8,686.4 2301.2,677.9 2301.5,696.2 2301.9,695.7 2302.3,652.1 2302.6,673.5 2303,665.7 2303.4,663.5 2303.7,675.5 2304.1,659.6 2304.5,697.7 2304.8,705.2 2305.2,668.4 2305.6,657 2305.9,675.8 2306.3,693.9 2306.7,671.8 2307,673.6 2307.4,700.3 2307.8,657.9 2308.2,689.9 2308.5,701.5 2308.9,690.6 2309.3,678.7 2309.6,680.2 2310,658.9 2310.4,697.7 2310.7,689.4 2311.1,668.9 2311.5,706.1 2311.8,657.7 2312.2,694.3 2312.6,683.3 2312.9,701.4 2313.3,656.6 2313.7,691.2 2314,661.6 2314.4,663.7 2314.8,646.8 2315.1,670.6 2315.5,662.4 2315.9,660.4 2316.2,676.4 2316.6,669.1 2317,681.7 2317.3,657.2 2317.7,662.7 2318.1,675.7 2318.5,671.1 2318.8,668 2319.2,647.6 2319.6,659.8 2319.9,653.9 2320.3,662.7 2320.7,664.1 2321,677.3 2321.4,661.5 2321.8,689 2322.1,706 2322.5,676.4 2322.9,652.6 2323.2,677.9 2323.6,668.8 2324,650.1 2324.3,681.8 2324.7,689.6 2325.1,690 2325.4,654 2325.8,667.2 2326.2,671.1 2326.5,669.4 2326.9,657.1 2327.3,676.5 2327.6,691.4 2328,660.6 2328.4,668.7 2328.8,667 2329.1,686.8 2329.5,673.9 2329.9,664.5 2330.2,691.1 2330.6,679.7 2331,681.6 2331.3,690.8 2331.7,694.7 2332.1,660.8 2332.4,677.8 2332.8,693.7 2333.2,670.3 2333.5,682.9 2333.9,680.9 2334.3,655.2 2334.6,683.4 2335,688.3 2335.4,686.3 2335.7,649.5 2336.1,672.6 2336.5,668.2 2336.8,656.6 2337.2,669.7 2337.6,686.3 2338,651.6 2338.3,690.1 2338.7,659.2 2339.1,694.8 2339.4,692.8 2339.8,686.9 2340.2,678.9 2340.5,686.7 2340.9,647.9 2341.3,669 2341.6,630 2342,678.1 2342.4,690.4 2342.7,697.3 2343.1,668.7 2343.5,652 2343.8,686.8 2344.2,677.7 2344.6,673.7 2344.9,647.8 2345.3,666.2 2345.7,612.7 2346,700.7 2346.4,665.2 2346.8,689.7 2347.1,650.3 2347.5,691.4 2347.9,649.2 2348.3,679.7 2348.6,658 2349,685 2349.4,685.7 2349.7,683 2350.1,680.1 2350.5,685.7 2350.8,668.7 2351.2,650.8 2351.6,663 2351.9,669.9 2352.3,669.5 2352.7,705.2 2353,676.8 2353.4,678.6 2353.8,692.6 2354.1,663.1 2354.5,703.2 2354.9,659.2 2355.2,660.2 2355.6,667.3 2356,667.3 2356.3,676 2356.7,659.3 2357.1,682.4 2357.4,702.3 2357.8,661.5 2358.2,697.8 2358.6,625 2358.9,697 2359.3,681.7 2359.7,704.1 2360,656.8 2360.4,698.9 2360.8,677.3 2361.1,700.2 2361.5,643.5 2361.9,655 2362.2,644.5 2362.6,670.6 2363,693.9 2363.3,658 2363.7,645.9 2364.1,694.7 2364.4,669.8 2364.8,682.6 2365.2,657.7 2365.5,641.1 2365.9,624 2366.3,647.6 2366.6,692.7 2367,655.7 2367.4,659.7 2367.8,669.6 2368.1,653.8 2368.5,657 2368.9,673.4 2369.2,693.5 2369.6,690.1 2370,642.3 2370.3,673.3 2370.7,690.2 2371.1,684.1 2371.4,684.4 2371.8,698.7 2372.2,686.1 2372.5,677.7 2372.9,698.4 2373.3,681.2 2373.6,633 2374,699.5 2374.4,683.5 2374.7,657.8 2375.1,660.8 2375.5,654.1 2375.8,642.8 2376.2,678.7 2376.6,687.2 2376.9,670.3 2377.3,649 2377.7,695.1 2378.1,682.7 2378.4,654.5 2378.8,702.2 2379.2,688.3 2379.5,661.5 2379.9,680 2380.3,691.7 2380.6,653.4 2381,663.1 2381.4,659.7 2381.7,640.7 2382.1,661.4 2382.5,648.4 2382.8,671.2 2383.2,699.8 2383.6,700.3 2383.9,668.5 2384.3,689.9 2384.7,701.2 2385,660.5 2385.4,682.1 2385.8,680.5 2386.1,664.3 2386.5,687 2386.9,700.4 2387.2,693.4 2387.6,666.3 2388,650.8 2388.4,655.7 2388.7,653.4 2389.1,647.5 2389.5,647 2389.8,693.5 2390.2,689.8 2390.6,664.2 2390.9,651.6 2391.3,660.1 2391.7,660 2392,698.4 2392.4,691.5 2392.8,677.3 2393.1,669 2393.5,659.2 2393.9,688 2394.2,693.3 2394.6,673.5 2395,684.9 2395.3,704.9 2395.7,651.2 2396.1,672.3 2396.4,652.1 2396.8,699.4 2397.2,678.2 2397.6,664.7 2397.9,677.4 2398.3,666.3 2398.7,685.9 2399,690.7 2399.4,680.2 2399.8,686.5 2400.1,635 2400.5,689.5 2400.9,690 2401.2,697.5 2401.6,695.2 2402,667 2402.3,688.6 2402.7,693 2403.1,698.5 2403.4,687.7 2403.8,688.4 2404.2,673.4 2404.5,675.7 2404.9,703.1 2405.3,657.7 2405.6,703.5 2406,689.9 2406.4,699.9 2406.7,694.2 2407.1,696.9 2407.5,657.5 2407.9,668 2408.2,693.9 2408.6,700.9 2409,692.2 2409.3,662.2 2409.7,678.8 2410.1,696.1 2410.4,676.4 2410.8,694.9 2411.2,696.8 2411.5,664.8 2411.9,659 2412.3,641.3 2412.6,702.3 2413,639.5 2413.4,683.1 2413.7,678 2414.1,664.4 2414.5,667.4 2414.8,671.8 2415.2,669.8 2415.6,684.6 2415.9,681.5 2416.3,680.6 2416.7,657.8 2417.1,680 2417.4,642.1 2417.8,665.2 2418.2,645.7 2418.5,670.7 2418.9,676.3 2419.3,638.6 2419.6,656.9 2420,705 2420.4,688.3 2420.7,681.2 2421.1,651.1 2421.5,682.5 2421.8,683.3 2422.2,704.7 2422.6,642.9 2422.9,688.6 2423.3,650.2 2423.7,644.3 2424,662.2 2424.4,676.9 2424.8,682.8 2425.1,684 2425.5,664.9 2425.9,661.3 2426.2,646.7 2426.6,671.7 2427,646 2427.4,662.1 2427.7,659.3 2428.1,682.9 2428.5,678.8 2428.8,654.2 2429.2,671.6 2429.6,667.3 2429.9,688.7 2430.3,681.8 2430.7,686.6 2431,689 2431.4,678.7 2431.8,685.7 2432.1,671.9 2432.5,659.8 2432.9,675.9 2433.2,677.9 2433.6,697 2434,659.8 2434.3,673.4 2434.7,682.7 2435.1,699.8 2435.4,691.3 2435.8,654.5 2436.2,677.3 2436.5,666.1 2436.9,655.5 2437.3,679 2437.7,681.6 2438,681.5 2438.4,661.1 2438.8,675.6 2439.1,665.3 2439.5,646.5 2439.9,685.1 2440.2,656.3 2440.6,664.6 2441,674.6 2441.3,690.4 2441.7,682.3 2442.1,657.7 2442.4,688.1 2442.8,654.9 2443.2,690.1 2443.5,690.5 2443.9,654.1 2444.3,654.4 2444.6,686.2 2445,665.3 2445.4,684.3 2445.7,677.1 2446.1,697.1 2446.5,678.8 2446.9,632 2447.2,652.2 2447.6,655.2 2448,703.5 2448.3,659.4 2448.7,702.6 2449.1,661.8 2449.4,666.3 2449.8,668.2 2450.2,689.2 2450.5,685.1 2450.9,671.5 2451.3,667.2 2451.6,660.8 2452,650.4 2452.4,677.9 2452.7,654 2453.1,696.8 2453.5,681.6 2453.8,669.2 2454.2,651.9 2454.6,678 2454.9,676.3 2455.3,680.7 2455.7,691.9 2456,676.7 2456.4,686.5 2456.8,672.5 2457.2,633 2457.5,677.7 2457.9,681.8 2458.3,648.1 2458.6,683 2459,661.2 2459.4,686.7 2459.7,682.5 2460.1,673 2460.5,671.6 2460.8,692.6 2461.2,677.4 2461.6,660.4 2461.9,663.8 2462.3,657.1 2462.7,660.4 2463,669.3 2463.4,677 2463.8,656.3 2464.1,655.7 2464.5,656.2 2464.9,690.7 2465.2,670.4 2465.6,703 2466,675 2466.3,696.4 2466.7,663.4 2467.1,690.8 2467.5,685 2467.8,666.1 2468.2,693 2468.6,666.2 2468.9,689.2 2469.3,684.5 2469.7,691.4 2470,690.3 2470.4,672.3 2470.8,682.6 2471.1,664.1 2471.5,689.7 2471.9,669.1 2472.2,665 2472.6,676.4 2473,671.4 2473.3,674.2 2473.7,666.7 2474.1,666.7 2474.4,688.7 2474.8,692.1 2475.2,663.8 2475.5,661.7 2475.9,671.1 2476.3,674.3 2476.7,695.9 2477,679.6 2477.4,694.4 2477.8,663.8 2478.1,695.5 2478.5,666.3 2478.9,693.5 2479.2,660.9 2479.6,614 2480,694.7 2480.3,680.3 2480.7,669.2 2481.1,694.4 2481.4,674.9 2481.8,682.7 2482.2,681.3 2482.5,670.8 2482.9,672.5 2483.3,683.3 2483.6,670.7 2484,660.4 2484.4,681 2484.7,684.5 2485.1,673.6 2485.5,679.9 2485.8,703.4 2486.2,658.8 2486.6,657.9 2487,672.5 2487.3,685.9 2487.7,672.1 2488.1,662.4 2488.4,675.9 2488.8,682.7 2489.2,666.4 2489.5,664.5 2489.9,655.5 2490.3,656.9 2490.6,681.8 2491,610 2491.4,676 2491.7,708.5 2492.1,665.8 2492.5,687.9 2492.8,623 2493.2,686 2493.6,657.2 2493.9,666 2494.3,691.6 2494.7,667.6 2495,685.7 2495.4,661.3 2495.8,659 2496.1,683.6 2496.5,689.6 2496.9,671.3 2497.3,694 2497.6,643.7 2498,667.5 2498.4,658.7 2498.7,708.9 2499.1,639.4 2499.5,669.7 2499.8,688.8 2500.2,693.3 2500.6,697.2 2500.9,679.7 2501.3,677.6 2501.7,707.6 2502,707.1 2502.4,690.4 2502.8,686.8 2503.1,691.1 2503.5,709 2503.9,678.9 2504.2,706.7 2504.6,703.1 2505,521.7 2505.3,679.3 2505.7,708 2506.1,697.1 2506.5,701.3 2506.8,699.4 2507.2,698.9 2507.6,703.4 2507.9,687.6 2508.3,694.4 2508.7,691.1 2509,706.1 2509.4,679 2509.8,696.7 2510.1,702.4 2510.5,707.7 2510.9,700.2 2511.2,704.4 2511.6,682.7 2512,705.2 2512.3,679.6 2512.7,660.1 2513.1,708 2513.4,694.7 2513.8,636.6 2514.2,662.5 2514.5,646.5 2514.9,613.5 2515.3,709.1 2515.6,674.4 2516,700.7 2516.4,667.7 2516.8,690.5 2517.1,673.8 2517.5,705.7 2517.9,683 2518.2,657.7 2518.6,675.3 2519,708.2 2519.3,703.8 2519.7,688.7 2520.1,667.9 2520.4,632.4 2520.8,703.7 2521.2,664.1 2521.5,693 2521.9,605 2522.3,674.7 2522.6,686.7 2523,705.3 2523.4,661.4 2523.7,699.2 2524.1,697.5 2524.5,648.9 2524.8,700 2525.2,697.8 2525.6,685 2526,667.3 2526.3,692.2 2526.7,696 2527.1,613.5 2527.4,663.5 2527.8,696.3 2528.2,699.5 2528.5,682.1 2528.9,704.5 2529.3,707.3 2529.6,684.1 2530,707.3 2530.4,601.4 2530.7,700.6 2531.1,698 2531.5,698.5 2531.8,706.7 2532.2,693.9 2532.6,703.5 2532.9,689.8 2533.3,672.5 2533.7,702 2534,707 2534.4,705.2 2534.8,689.9 2535.1,685.3 2535.5,698.2 2535.9,553.8 2536.3,708.1 2536.6,699.8 2537,706.9 2537.4,675.7 2537.7,695 2538.1,686.6 2538.5,692.9 2538.8,676.7 2539.2,704.6 2539.6,670.2 2539.9,697.3 2540.3,695.6 2540.7,684.8 2541,691.9 2541.4,687.8 2541.8,687.9 2542.1,671.7 2542.5,674.8 2542.9,704.4 2543.2,656.5 2543.6,695.9 2544,695.7 2544.3,707 2544.7,699.7 2545.1,671.8 2545.4,707.9 2545.8,701.4 2546.2,684.8 2546.6,709.1 2546.9,688.2 2547.3,664.3 2547.7,708.1 2548,687.3 2548.4,700.7 2548.8,674.3 2549.1,699.5 2549.5,680.6 2549.9,676.6 2550.2,703.7 2550.6,692.8 2551,698.4 2551.3,681.8 2551.7,708.5 2552.1,689.5 2552.4,689.2 2552.8,698.7 2553.2,644.5 2553.5,680.9 2553.9,677.6 2554.3,696.3 2554.6,696.6 2555,707.9 2555.4,668.3 2555.8,688.1 2556.1,697.9 2556.5,705.1 2556.9,708.5 2557.2,706.1 2557.6,695.8 2558,699 2558.3,678.7 2558.7,621 2559.1,678 2559.4,687.5 2559.8,706.9 2560.2,702.6 2560.5,632 2560.9,633.1 2561.3,703.2 2561.6,706.7 2562,687.5 2562.4,692.9 2562.7,694.9 2563.1,704.1 2563.5,657 2563.8,702 2564.2,694 2564.6,690.4 2564.9,694.4 2565.3,708 2565.7,700.2 2566.1,708.2 2566.4,706.8 2566.8,708.9 2567.2,708.2 2567.5,682.4 2567.9,701 2568.3,698.2 2568.6,708.5 2569,707.1 2569.4,652 2569.7,693 2570.1,690.7 2570.5,694.1 2570.8,682.6 2571.2,694.4 2571.6,671.5 2571.9,623 2572.3,703.7 2572.7,666.4 2573,689.7 2573.4,705.5 2573.8,687.1 2574.1,703.9 2574.5,646.1 2574.9,667.9 2575.2,687.3 2575.6,700.4 2576,706.8 2576.4,674.6 2576.7,606.7 2577.1,698.3 2577.5,701.7 2577.8,701.4 2578.2,707.7 2578.6,702.7 2578.9,665.1 2579.3,706.5 2579.7,619 2580,688.3 2580.4,696.2 2580.8,701 2581.1,700.7 2581.5,648.5 2581.9,693 2582.2,681.7 2582.6,602 2583,706.3 2583.3,684.6 2583.7,698.6 2584.1,705 2584.4,692.5 2584.8,703 2585.2,644.2 2585.6,685 2585.9,695 2586.3,681.4 2586.7,707.1 2587,684.4 2587.4,703 2587.8,663.7 2588.1,700.3 2588.5,693.7 2588.9,677.9 2589.2,694.5 2589.6,705.6 2590,708.5 2590.3,707.7 2590.7,681.4 2591.1,678.2 2591.4,651.5 2591.8,665.2 2592.2,683.5 2592.5,706.2 2592.9,667.1 2593.3,703.8 2593.6,545.5 2594,600 2594.4,684 2594.7,703.7 2595.1,699.1 2595.5,682.1 2595.9,652.6 2596.2,685.9 2596.6,703.4 2597,675.2 2597.3,698.9 2597.7,633.3 2598.1,705.8 2598.4,696.6 2598.8,674.9 2599.2,705.6 2599.5,639.6 2599.9,685.9 2600.3,701.2 2600.6,669.4 2601,671.7 2601.4,661.4 2601.7,687.8 2602.1,691.3 2602.5,680.9 2602.8,704.3 2603.2,692 2603.6,704.2 2603.9,705.6 2604.3,643.7 2604.7,686.8 2605,689 2605.4,652.1 2605.8,694.4 2606.2,682.1 2606.5,680.2 2606.9,708 2607.3,703.7 2607.6,635.7 2608,707.9 2608.4,687.1 2608.7,702.1 2609.1,692.1 2609.5,708.3 2609.8,690.3 2610.2,707.2 2610.6,632 2610.9,693.7 2611.3,698.3 2611.7,692.7 2612,701.5 2612.4,703.7 2612.8,693.3 2613.1,652.1 2613.5,708.2 2613.9,696.5 2614.2,707.3 2614.6,667.9 2615,696.8 2615.4,679.5 2615.7,702.3 2616.1,664.9 2616.5,673.9 2616.8,673.9 2617.2,676.3 2617.6,694.7 2617.9,704.9 2618.3,706.3 2618.7,688.3 2619,679.6 2619.4,696.1 2619.8,709 2620.1,707.8 2620.5,693.1 2620.9,706.5 2621.2,707.9 2621.6,689.3 2622,612.7 2622.3,671.7 2622.7,671.7 2623.1,702.2 2623.4,703.2 2623.8,696.7 2624.2,704.6 2624.5,678.6 2624.9,692.8 2625.3,676.9 2625.7,704.9 2626,699.2 2626.4,704.3 2626.8,671.3 2627.1,690.5 2627.5,689.5 2627.9,706.6 2628.2,668.6 2628.6,697 2629,689.7 2629.3,700 2629.7,699 2630.1,706.5 2630.4,607 2630.8,673.8 2631.2,700.1 2631.5,707.3 2631.9,666.7 2632.3,670 2632.6,687.3 2633,654.9 2633.4,645.7 2633.7,687.4 2634.1,700.4 2634.5,690.7 2634.9,698.7 2635.2,651.3 2635.6,696.8 2636,625 2636.3,683 2636.7,707.2 2637.1,640.1 2637.4,688 2637.8,660.2 2638.2,688.3 2638.5,700.4 2638.9,632.8 2639.3,635.4 2639.6,631.1 2640,669.2 2640.4,707.5 2640.7,673 2641.1,680.2 2641.5,706.7 2641.8,632 2642.2,695.9 2642.6,706.9 2642.9,705.3 2643.3,655.2 2643.7,638.2 2644,701 2644.4,700.1 2644.8,684.2 2645.2,707.5 2645.5,679.9 2645.9,705.8 2646.3,674 2646.6,703.1 2647,691.6 2647.4,682.2 2647.7,634.4 2648.1,651.3 2648.5,691.5 2648.8,642.1 2649.2,694.6 2649.6,666.2 2649.9,682.4 2650.3,707.9 2650.7,641.5 2651,709.2 2651.4,701.3 2651.8,707.3 2652.1,700 2652.5,699.6 2652.9,694.8 2653.2,705.8 2653.6,708.5 2654,694 2654.3,686.2 2654.7,665 2655.1,680 2655.5,672.1 2655.8,707.7 2656.2,673.3 2656.6,708.4 2656.9,702.9 2657.3,704.9 2657.7,703.2 2658,673.5 2658.4,702.4 2658.8,677.2 2659.1,685.4 2659.5,690.9 2659.9,665.8 2660.2,705.9 2660.6,687.7 2661,705.7 2661.3,689.1 2661.7,704 2662.1,583 2662.4,671.1 2662.8,695 2663.2,689.4 2663.5,709.2 2663.9,705.3 2664.3,636.4 2664.7,684 2665,642.5 2665.4,506.6 2665.8,583 2666.1,696.6 2666.5,707.7 2666.9,684.9 2667.2,708.2 2667.6,708.1 2668,692.2 2668.3,687.5 2668.7,705.7 2669.1,690.2 2669.4,706.3 2669.8,661.5 2670.2,566 2670.5,677.3 2670.9,697.6 2671.3,683.3 2671.6,692.3 2672,708.8 2672.4,698.1 2672.7,696.5 2673.1,702.5 2673.5,695.7 2673.8,695.3 2674.2,700.7 2674.6,690.9 2675,702.6 2675.3,691.2 2675.7,667.3 2676.1,627 2676.4,665.1 2676.8,669 2677.2,656.8 2677.5,684.8 2677.9,594 2678.3,697.5 2678.6,663.5 2679,699.3 2679.4,705.6 2679.7,685.7 2680.1,706.7 2680.5,708.2 2680.8,695.6 2681.2,705.1 2681.6,708.6 2681.9,677.2 2682.3,706.2 2682.7,702.3 2683,694.7 2683.4,686.8 2683.8,704.4 2684.1,708.8 2684.5,654.6 2684.9,707.5 2685.3,694.6 2685.6,681.4 2686,691.4 2686.4,681.3 2686.7,704.4 2687.1,634 2687.5,696.1 2687.8,685.9 2688.2,696.6 2688.6,700.3 2688.9,645.6 2689.3,698 2689.7,703 2690,685.4 2690.4,677.5 2690.8,668.7 2691.1,691 2691.5,654.2 2691.9,707.6 2692.2,693.7 2692.6,649 2693,697.7 2693.3,678.7 2693.7,667.6 2694.1,631.1 2694.5,707.1 2694.8,702.6 2695.2,699.3 2695.6,674.1 2695.9,696.1 2696.3,692.3 2696.7,701.8 2697,689.6 2697.4,703.8 2697.8,703.1 2698.1,690.6 2698.5,633 2698.9,687.3 2699.2,685.6 2699.6,706.1 2700,663.4 2700.3,703.9 2700.7,684.8 2701.1,679.9 2701.4,699.3 2701.8,677.8 2702.2,689.4 2702.5,669.8 2702.9,692.2 2703.3,684.9 2703.6,709.1 2704,707.7 2704.4,703.6 2704.8,705.4 2705.1,699 2705.5,695.6 2705.9,688.8 2706.2,676.7 2706.6,708.1 2707,680.3 2707.3,683.7 2707.7,658.3 2708.1,661.9 2708.4,706.3 2708.8,688 2709.2,690.1 2709.5,695.1 2709.9,672.1 2710.3,680.4 2710.6,675.8 2711,696.5 2711.4,698 2711.7,592.7 2712.1,645 2712.5,636.2 2712.8,695.5 2713.2,705.8 2713.6,703.8 2713.9,704 2714.3,643.2 2714.7,674.5 2715.1,696.7 2715.4,692.5 2715.8,669.2 2716.2,662.8 2716.5,673.3 2716.9,705.7 2717.3,694.1 2717.6,675.6 2718,688.6 2718.4,680.9 2718.7,686.8 2719.1,689.1 2719.5,697.4 2719.8,700.6 2720.2,643 2720.6,692.4 2720.9,669.1 2721.3,693 2721.7,671 2722,708.7 2722.4,660.9 2722.8,662.7 2723.1,650.5 2723.5,688.1 2723.9,679.1 2724.3,702.5 2724.6,701.6 2725,707.6 2725.4,701.2 2725.7,688.2 2726.1,665 2726.5,701.4 2726.8,690.7 2727.2,684.8 2727.6,687.3 2727.9,706.9 2728.3,708.4 2728.7,631.2 2729,678.5 2729.4,681.9 2729.8,692.9 2730.1,687.3 2730.5,701.4 2730.9,289.3 2731.2,466 2731.6,577 2732,687.4 2732.3,708 2732.7,664.7 2733.1,656.4 2733.4,693.9 2733.8,692.3 2734.2,664.4 2734.6,704.2 2734.9,675.2 2735.3,662.8 2735.7,707.9 2736,690.8 2736.4,672.7 2736.8,707.9 2737.1,666.5 2737.5,691 2737.9,706.8 2738.2,319.9 2738.6,569 2739,660.7 2739.3,702.4 2739.7,658.8 2740.1,702.3 2740.4,637.9 2740.8,673.7 2741.2,695.5 2741.5,662 2741.9,663.3 2742.3,664.9 2742.6,704.1 2743,708.8 2743.4,673.3 2743.8,687.9 2744.1,656.2 2744.5,641.8 2744.9,571 2745.2,622.4 2745.6,655.6 2746,689.4 2746.3,583 2746.7,692.4 2747.1,695.6 2747.4,630.7 2747.8,650 2748.2,664.3 2748.5,656.7 2748.9,694.1 2749.3,696.1 2749.6,707.5 2750,662.9 2750.4,668.4 2750.7,684.4 2751.1,679.8 2751.5,681.4 2751.8,684.2 2752.2,627.4 2752.6,705 2752.9,706 2753.3,703.3 2753.7,693.5 2754.1,701.5 2754.4,706.1 2754.8,685 2755.2,682.7 2755.5,642 2755.9,702.3 2756.3,639.2 2756.6,655.6 2757,677.3 2757.4,672.2 2757.7,679.1 2758.1,692.7 2758.5,702.5 2758.8,676.9 2759.2,690.8 2759.6,634.9 2759.9,708.4 2760.3,683.9 2760.7,684.2 2761,666.6 2761.4,705.3 2761.8,704.2 2762.1,648.7 2762.5,696.2 2762.9,583 2763.2,709.2 2763.6,675.7 2764,703.3 2764.4,703.3 2764.7,646.9 2765.1,708.2 2765.5,496.4 2765.8,583 2766.2,703.7 2766.6,666.2 2766.9,705.2 2767.3,704.6 2767.7,662.4 2768,689.3 2768.4,703.5 2768.8,687 2769.1,688.7 2769.5,706.9 2769.9,693.7 2770.2,649.9 2770.6,693.6 2771,676.9 2771.3,680.9 2771.7,649.5 2772.1,670.9 2772.4,703.6 2772.8,695.5 2773.2,705 2773.6,695.2 2773.9,706.3 2774.3,697.6 2774.7,685.7 2775,536 2775.4,560 2775.8,678 2776.1,685.3 2776.5,664 2776.9,695.6 2777.2,702.1 2777.6,695.5 2778,690.9 2778.3,704.6 2778.7,702.6 2779.1,685.6 2779.4,706 2779.8,685.6 2780.2,654.5 2780.5,703.8 2780.9,692.2 2781.3,685.1 2781.6,702.1 2782,704.6 2782.4,683.3 2782.7,699.5 2783.1,687.1 2783.5,694.1 2783.9,701.6 2784.2,689.8 2784.6,705 2785,707.9 2785.3,619.7 2785.7,704.3 2786.1,681.5 2786.4,695.5 2786.8,688.4 2787.2,693.6 2787.5,678.4 2787.9,656 2788.3,706.2 2788.6,700.1 2789,591 2789.4,643.6 2789.7,705 2790.1,674.8 2790.5,664.7 2790.8,699 2791.2,622 2791.6,704.7 2791.9,706 2792.3,692.3 2792.7,666.3 2793,696 2793.4,676.6 2793.8,702.4 2794.2,683.1 2794.5,704.2 2794.9,583 2795.3,706.5 2795.6,705.4 2796,626 2796.4,696 2796.7,691.7 2797.1,637.9 2797.5,654.9 2797.8,674.9 2798.2,692.4 2798.6,703 2798.9,631.1 2799.3,687.2 2799.7,675.5 2800,683.8 2800.4,699.4 2800.8,684.3 2801.1,709.2 2801.5,704.8 2801.9,705.9 2802.2,675.8 2802.6,681.6 2803,643.3 2803.4,661.2 2803.7,690.5 2804.1,589 2804.5,693.9 2804.8,704.7 2805.2,675.6 2805.6,703.5 2805.9,654.5 2806.3,696.5 2806.7,706.5 2807,702.4 2807.4,702 2807.8,708.2 2808.1,701.7 2808.5,704.4 2808.9,691.5 2809.2,705.1 2809.6,690.6 2810,708.1 2810.3,679.1 2810.7,705.2 2811.1,707.4 2811.4,708.1 2811.8,708 2812.2,664 2812.5,698.5 2812.9,708 2813.3,687.5 2813.7,705.6 2814,698.2 2814.4,688.3 2814.8,696.4 2815.1,692.1 2815.5,678.4 2815.9,650.6 2816.2,707.2 2816.6,680.2 2817,690.6 2817.3,698 2817.7,666.9 2818.1,675.6 2818.4,664.1 2818.8,679.8 2819.2,691.7 2819.5,697.1 2819.9,633.8 2820.3,680 2820.6,690.6 2821,705 2821.4,487.7 2821.7,701.1 2822.1,702.3 2822.5,708.1 2822.8,693 2823.2,708.2 2823.6,652.3 2824,689 2824.3,669.8 2824.7,696.6 2825.1,681.7 2825.4,682.2 2825.8,699.3 2826.2,689 2826.5,693.3 2826.9,690 2827.3,697 2827.6,708.5 2828,657.5 2828.4,693.3 2828.7,513.4 2829.1,562.5 2829.5,709 2829.8,678.3 2830.2,651.1 2830.6,648 2830.9,693.6 2831.3,692.1 2831.7,699.2 2832,696.7 2832.4,692.6 2832.8,621.5 2833.2,698.7 2833.5,706.1 2833.9,700.6 2834.3,685.1 2834.6,699.9 2835,699 2835.4,705.8 2835.7,662.7 2836.1,698.9 2836.5,701 2836.8,693.5 2837.2,706.7 2837.6,684.4 2837.9,676.7 2838.3,658.6 2838.7,698.1 2839,708 2839.4,683.9 2839.8,676.8 2840.1,700.7 2840.5,703.7 2840.9,700.5 2841.2,707.3 2841.6,671.2 2842,686.9 2842.3,663.4 2842.7,678.6 2843.1,671.1 2843.5,695.8 2843.8,630.5 2844.2,706.3 2844.6,661.2 2844.9,645.8 2845.3,682.3 2845.7,702.4 2846,700.8 2846.4,704.7 2846.8,680.3 2847.1,698.9 2847.5,702.7 2847.9,661.5 2848.2,706.7 2848.6,703.5 2849,696.4 2849.3,690.5 2849.7,666.1 2850.1,702.8 2850.4,704.7 2850.8,682.3 2851.2,707.8 2851.5,701 2851.9,634.4 2852.3,680.6 2852.7,652.9 2853,675.5 2853.4,708.8 2853.8,700.3 2854.1,701.2 2854.5,703 2854.9,707.1 2855.2,691.6 2855.6,692.3 2856,695.8 2856.3,631.1 2856.7,664 2857.1,708.1 2857.4,706.6 2857.8,702 2858.2,690.7 2858.5,704.2 2858.9,682.1 2859.3,700.5 2859.6,675.1 2860,681.2 2860.4,701.7 2860.7,682.5 2861.1,664.3 2861.5,492 2861.8,540 2862.2,680.4 2862.6,707.3 2863,683.8 2863.3,630.7 2863.7,667 2864.1,708 2864.4,624.8 2864.8,694.1 2865.2,690 2865.5,691.1 2865.9,683.5 2866.3,689.3 2866.6,682.4 2867,591 2867.4,648.6 2867.7,706.7 2868.1,703.5 2868.5,625.7 2868.8,708.6 2869.2,686.6 2869.6,647.9 2869.9,692.2 2870.3,699 2870.7,646.8 2871,672.3 2871.4,697.7 2871.8,706.5 2872.1,695.3 2872.5,692.9 2872.9,699.2 2873.3,629.2 2873.6,692.1 2874,703.5 2874.4,452.8 2874.7,489.6 2875.1,687.4 2875.5,687.6 2875.8,695.9 2876.2,657.1 2876.6,682.8 2876.9,692 2877.3,692.3 2877.7,685.1 2878,692.1 2878.4,656.7 2878.8,696.4 2879.1,704 2879.5,688.6 2879.9,700.9 2880.2,706.7 2880.6,702.9 2881,707.7 2881.3,651.1 2881.7,703.3 2882.1,364 2882.5,513.4 2882.8,696 2883.2,686 2883.6,689.5 2883.9,689.2 2884.3,700.4 2884.7,645.9 2885,676.5 2885.4,706.3 2885.8,696.9 2886.1,672.2 2886.5,680.7 2886.9,700.4 2887.2,659 2887.6,650.9 2888,706.3 2888.3,629.9 2888.7,695.6 2889.1,700.5 2889.4,685.7 2889.8,708 2890.2,688 2890.5,650.2 2890.9,669 2891.3,694 2891.6,600 2892,674.6 2892.4,668.9 2892.8,704.5 2893.1,648 2893.5,708.8 2893.9,638.3 2894.2,705.3 2894.6,692.7 2895,703.4 2895.3,657.4 2895.7,695.9 2896.1,705.4 2896.4,686.2 2896.8,708.9 2897.2,681.9 2897.5,662.1 2897.9,688.9 2898.3,706 2898.6,681 2899,704.4 2899.4,699.8 2899.7,683.9 2900.1,694.1 2900.5,645.5 2900.8,704.9 2901.2,659.3 2901.6,625.6 2901.9,708.6 2902.3,696.5 2902.7,667.6 2903.1,666.1 2903.4,642.1 2903.8,698.3 2904.2,663.2 2904.5,706.1 2904.9,591 2905.3,689.5 2905.6,678.5 2906,701 2906.4,695.7 2906.7,691.7 2907.1,701.1 2907.5,628.4 2907.8,644.8 2908.2,698 2908.6,690.9 2908.9,703.6 2909.3,694.9 2909.7,698.3 2910,704.9 2910.4,699.5 2910.8,690.9 2911.1,703.4 2911.5,675.3 2911.9,640.7 2912.3,703.2 2912.6,701.4 2913,690.5 2913.4,669.8 2913.7,708.8 2914.1,669.9 2914.5,661.7 2914.8,704.7 2915.2,677.9 2915.6,707.8 2915.9,652.2 2916.3,686.5 2916.7,696.3 2917,674.5 2917.4,674.3 2917.8,702.1 2918.1,696.1 2918.5,687.8 2918.9,665.7 2919.2,680 2919.6,666.3 2920,678.8 2920.3,675.5 2920.7,704.9 2921.1,706 2921.4,702.4 2921.8,701 2922.2,683.6 2922.6,661.9 2922.9,706.4 2923.3,686 2923.7,680 2924,708.5 2924.4,664.6 2924.8,670.5 2925.1,674.2 2925.5,632.5 2925.9,678.5 2926.2,659.1 2926.6,691.1 2927,703.7 2927.3,648.8 2927.7,704.7 2928.1,707.4 2928.4,708.8 2928.8,695.7 2929.2,667.6 2929.5,676 2929.9,687.7 2930.3,702.7 2930.6,698 2931,700.1 2931.4,654.9 2931.7,691 2932.1,624.8 2932.5,707.8 2932.9,695.7 2933.2,695.3 2933.6,707.4 2934,673.1 2934.3,665.7 2934.7,704.3 2935.1,707 2935.4,667.9 2935.8,687 2936.2,534 2936.5,557 2936.9,570 2937.3,581 2937.6,690.3 2938,686.8 2938.4,705.9 2938.7,686.3 2939.1,654.2 2939.5,696.1 2939.8,688.2 2940.2,677.1 2940.6,703.2 2940.9,683.4 2941.3,692.5 2941.7,699.8 2942.1,689.5 2942.4,689.5 2942.8,637.9 2943.2,703.4 2943.5,634.2 2943.9,694.9 2944.3,697.1 2944.6,650.9 2945,702.6 2945.4,693.3 2945.7,686.8 2946.1,633.3 2946.5,685.3 2946.8,701.4 2947.2,689.8 2947.6,602 2947.9,688.8 2948.3,708.7 2948.7,701.6 2949,620.5 2949.4,660.2 2949.8,695.8 2950.1,697.4 2950.5,650.8 2950.9,657.5 2951.2,702.8 2951.6,706.2 2952,687.3 2952.4,677.6 2952.7,708.7 2953.1,700.7 2953.5,706.1 2953.8,699.3 2954.2,635.5 2954.6,698 2954.9,593 2955.3,656 2955.7,679.2 2956,650.8 2956.4,692 2956.8,705.6 2957.1,680.3 2957.5,705.7 2957.9,644.4 2958.2,687.5 2958.6,694.1 2959,673.7 2959.3,689.3 2959.7,668.9 2960.1,708.1 2960.4,685.4 2960.8,646.2 2961.2,704.8 2961.6,665 2961.9,699.4 2962.3,694.2 2962.7,689.3 2963,704.4 2963.4,662.1 2963.8,689.7 2964.1,691.5 2964.5,626.6 2964.9,640.7 2965.2,672.3 2965.6,685.9 2966,696.5 2966.3,681.6 2966.7,687.1 2967.1,680.4 2967.4,683.7 2967.8,701.4 2968.2,708.9 2968.5,666.1 2968.9,692.3 2969.3,627.5 2969.6,692.8 2970,640.2 2970.4,687.4 2970.7,665.5 2971.1,637.8 2971.5,707.6 2971.9,685.9 2972.2,699.2 2972.6,608.4 2973,667.3 2973.3,691.5 2973.7,703.3 2974.1,696.6 2974.4,668.7 2974.8,687 2975.2,690 2975.5,661.3 2975.9,702.5 2976.3,690.2 2976.6,703.5 2977,666.2 2977.4,705.4 2977.7,707.2 2978.1,680.6 2978.5,669.7 2978.8,704.4 2979.2,686.5 2979.6,668.5 2979.9,521.7 2980.3,551 2980.7,591 2981,701.4 2981.4,648.7 2981.8,702.2 2982.2,624.1 2982.5,679.2 2982.9,705.6 2983.3,697.2 2983.6,707.7 2984,664.5 2984.4,655.5 2984.7,650.7 2985.1,708.2 2985.5,680 2985.8,708.4 2986.2,709.1 2986.6,681.8 2986.9,634.8 2987.3,621.6 2987.7,685.1 2988,680.3 2988.4,700.4 2988.8,671.7 2989.1,687.5 2989.5,705.4 2989.9,687.9 2990.2,628.9 2990.6,680.5 2991,700.4 2991.4,704.4 2991.7,574 2992.1,701.7 2992.5,700.7 2992.8,688.4 2993.2,672.5 2993.6,707.3 2993.9,667.8 2994.3,708.7 2994.7,691.1 2995,698.5 2995.4,693.7 2995.8,668.6 2996.1,653.9 2996.5,685.6 2996.9,696.4 2997.2,696.8 2997.6,646.1 2998,581 2998.3,706.2 2998.7,703.6 2999.1,693.9 2999.4,701.9 2999.8,693.9 3000.2,702.4 3000.5,662.6 3000.9,663.7 3001.3,709.2 3001.7,704.8 3002,684.2 3002.4,644.8 3002.8,641.5 3003.1,670.1 3003.5,664 3003.9,656.1 3004.2,703.7 3004.6,677.4 3005,577.1 3005.3,704 3005.7,691.3 3006.1,609.9 3006.4,682.4 3006.8,692.1 3007.2,684.4 3007.5,696.6 3007.9,704.4 3008.3,558 3008.6,675.6 3009,662.4 3009.4,448.3 3009.7,558 3010.1,670.3 3010.5,697.8 3010.8,687.3 3011.2,678.8 3011.6,697.4 3012,658.6 3012.3,671.3 3012.7,678.9 3013.1,644.5 3013.4,675.2 3013.8,708 3014.2,667.6 3014.5,698.2 3014.9,683.8 3015.3,665.2 3015.6,641.1 3016,702.5 3016.4,708.6 3016.7,698.1 3017.1,672.4 3017.5,700.4 3017.8,558 3018.2,666.9 3018.6,709.1 3018.9,707.1 3019.3,701.1 3019.7,681 3020,692.3 3020.4,706.4 3020.8,697.3 3021.2,704.6 3021.5,691.7 3021.9,663.5 3022.3,703.3 3022.6,687.8 3023,623 3023.4,699 3023.7,572.9 3024.1,620.3 3024.5,663.9 3024.8,691.1 3025.2,587.7 3025.6,700.8 3025.9,706.5 3026.3,690.7 3026.7,689.7 3027,704.2 3027.4,703.8 3027.8,698.6 3028.1,690.4 3028.5,699.1 3028.9,688.4 3029.2,649 3029.6,567.6 3030,690.5 3030.3,698.7 3030.7,693.3 3031.1,672.8 3031.5,659.5 3031.8,697.1 3032.2,670.4 3032.6,627.3 3032.9,683.2 3033.3,687.1 3033.7,659.2 3034,692.9 3034.4,702.5 3034.8,702.2 3035.1,614.4 3035.5,700.1 3035.9,668.7 3036.2,695 3036.6,675.1 3037,638.9 3037.3,684.9 3037.7,691.2 3038.1,699.5 3038.4,697.7 3038.8,665.7 3039.2,672.2 3039.5,689.7 3039.9,688.4 3040.3,676.7 3040.6,687.3 3041,683.7 3041.4,684 3041.8,676 3042.1,681.4 3042.5,685.6 3042.9,683.1 3043.2,673 3043.6,671.9 3044,686.2 3044.3,643 3044.7,695.4 3045.1,610.9 3045.4,673.8 3045.8,694.8 3046.2,682.5 3046.5,687.8 3046.9,662.8 3047.3,663.6 3047.6,601.6 3048,671.1 3048.4,615.3 3048.7,663.4 3049.1,628.4 3049.5,653.1 3049.8,645.1 3050.2,689.4 3050.6,639.8 3051,695.2 3051.3,671.5 3051.7,685.7 3052.1,515 3052.4,549 3052.8,669.6 3053.2,675.3 3053.5,652.2 3053.9,680.9 3054.3,623.6 3054.6,689 3055,680.9 3055.4,624.6 3055.7,637.6 3056.1,668.3 3056.5,652.4 3056.8,663.8 3057.2,691.1 3057.6,691 3057.9,660.7 3058.3,681.8 3058.7,611.7 3059,613.6 3059.4,660.9 3059.8,633 3060.1,614.8 3060.5,684.2 3060.9,640.1 3061.3,611.5 3061.6,688 3062,678.3 3062.4,607.9 3062.7,665.4 3063.1,656 3063.5,672.4 3063.8,608.9 3064.2,667 3064.6,658.7 3064.9,530 3065.3,647.4 3065.7,644.4 3066,535.2 3066.4,650.8 3066.8,529.1 3067.1,560 3067.5,609 3067.9,668.3 3068.2,698.6 3068.6,619.7 3069,578.9 3069.3,649.4 3069.7,672.9 3070.1,573.6 3070.5,666.8 3070.8,626.7 3071.2,619.1 3071.6,689.6 3071.9,627.2 3072.3,568.9 3072.7,656.4 3073,689.3 3073.4,691 3073.8,677.3 3074.1,608.4 3074.5,527.4 3074.9,687.6 3075.2,705.3 3075.6,668.5 3076,650.4 3076.3,706.5 3076.7,654.6 3077.1,685.3 3077.4,659.6 3077.8,689.1 3078.2,666.2 3078.5,414 3078.9,445 3079.3,490 3079.6,513 3080,585.7 3080.4,687.4 3080.8,578.6 3081.1,667.1 3081.5,708.9 3081.9,645.7 3082.2,663.9 3082.6,576.8 3083,681.6 3083.3,705.9 3083.7,685.5 3084.1,522.9 3084.4,589.9 3084.8,527.2 3085.2,584.8 3085.5,675.8 3085.9,614.3 3086.3,702.8 3086.6,673.6 3087,611.5 3087.4,667.6 3087.7,669 3088.1,597.3 3088.5,689.4 3088.8,620.3 3089.2,697.2 3089.6,545.5 3089.9,641.3 3090.3,669.6 3090.7,676.6 3091.1,690.8 3091.4,683.8 3091.8,547.7 3092.2,489.2 3092.5,498.2 3092.9,571.1 3093.3,571.6 3093.6,517.7 3094,654.1 3094.4,681.8 3094.7,617.4 3095.1,654.6 3095.5,523.2 3095.8,585.5 3096.2,520.1 3096.6,668.8 3096.9,648.9 3097.3,571.1 3097.7,673.2 3098,670.3 3098.4,521.5 3098.8,704.2 3099.1,676.1 3099.5,540 3099.9,664.2 3100.3,559.7 3100.6,668.3 3101,355.8 3101.4,509 3101.7,532.2 3102.1,704.1 3102.5,657.7 3102.8,676.1 3103.2,609.1 3103.6,622.5 3103.9,558.6 3104.3,588.7 3104.7,677.6 3105,486.3 3105.4,572.5 3105.8,702.7 3106.1,680.8 3106.5,626 3106.9,666.4 3107.2,550.7 3107.6,676 3108,538.7 3108.3,643.8 3108.7,605.5 3109.1,619 3109.4,557.1 3109.8,593.1 3110.2,522.5 3110.6,487 3110.9,544.9 3111.3,537 3111.7,607.9 3112,698.6 3112.4,619.2 3112.8,706.1 3113.1,602.3 3113.5,689 3113.9,688.1 3114.2,642.4 3114.6,695.5 3115,688.9 3115.3,578.5 3115.7,631.4 3116.1,492.6 3116.4,666.9 3116.8,653.4 3117.2,691.3 3117.5,611.9 3117.9,686 3118.3,549 3118.6,697.6 3119,618.5 3119.4,671.2 3119.7,674.7 3120.1,565.2 3120.5,624.5 3120.9,682.3 3121.2,571.4 3121.6,580.8 3122,654.7 3122.3,543.6 3122.7,444 3123.1,478 3123.4,673.2 3123.8,680.8 3124.2,553.1 3124.5,539.6 3124.9,687.7 3125.3,603.1 3125.6,678.1 3126,492.8 3126.4,643.4 3126.7,626.5 3127.1,646 3127.5,659.2 3127.8,583.3 3128.2,700.3 3128.6,684.4 3128.9,657.4 3129.3,538.6 3129.7,622.4 3130.1,679.7 3130.4,628.4 3130.8,627.8 3131.2,633 3131.5,683.9 3131.9,469.5 3132.3,684.7 3132.6,508.9 3133,629.8 3133.4,634.1 3133.7,664 3134.1,476.7 3134.5,652.7 3134.8,622.7 3135.2,470.2 3135.6,669.8 3135.9,622.5 3136.3,671.7 3136.7,696.1 3137,699.7 3137.4,585.6 3137.8,657.9 3138.1,640.1 3138.5,636.4 3138.9,602.3 3139.2,644.2 3139.6,657.1 3140,615.8 3140.4,654.8 3140.7,481 3141.1,628.7 3141.5,647.8 3141.8,528.7 3142.2,433.8 3142.6,611.6 3142.9,664.3 3143.3,614.5 3143.7,703.1 3144,658.7 3144.4,624.2 3144.8,666.2 3145.1,614.5 3145.5,655.4 3145.9,431.7 3146.2,664.2 3146.6,647.4 3147,659.8 3147.3,642.5 3147.7,666.7 3148.1,662 3148.4,689.6 3148.8,596.3 3149.2,690.1 3149.5,567.3 3149.9,697.7 3150.3,627.8 3150.7,642.7 3151,458.5 3151.4,654.3 3151.8,605.8 3152.1,673.2 3152.5,652.2 3152.9,645 3153.2,463 3153.6,701.2 3154,640.6 3154.3,639 3154.7,570.6 3155.1,525.5 3155.4,667.2 3155.8,524.6 3156.2,697.2 3156.5,680.9 3156.9,594.2 3157.3,618.8 3157.6,550.3 3158,697.4 3158.4,566.2 3158.7,674 3159.1,689.4 3159.5,606.3 3159.9,668.1 3160.2,451.5 3160.6,463.8 3161,707.6 3161.3,664.8 3161.7,316 3162.1,415 3162.4,656.7 3162.8,565.2 3163.2,600.1 3163.5,662.6 3163.9,547 3164.3,577.7 3164.6,673.8 3165,659.6 3165.4,691.5 3165.7,583.9 3166.1,692.3 3166.5,544 3166.8,563 3167.2,557.1 3167.6,535.4 3167.9,661.1 3168.3,595.2 3168.7,666.5 3169,693.2 3169.4,572.4 3169.8,680.6 3170.2,363 3170.5,411 3170.9,432 3171.3,603.5 3171.6,690.3 3172,578.7 3172.4,537.9 3172.7,657.2 3173.1,435.6 3173.5,551.8 3173.8,500.4 3174.2,620.9 3174.6,641.9 3174.9,690.8 3175.3,661.9 3175.7,585 3176,570.6 3176.4,675.4 3176.8,678 3177.1,599.7 3177.5,701.8 3177.9,631.5 3178.2,503.6 3178.6,629.4 3179,688.8 3179.4,655 3179.7,602.9 3180.1,645.3 3180.5,590.2 3180.8,669.4 3181.2,445.4 3181.6,208.8 3181.9,316 3182.3,342.5 3182.7,608.7 3183,690.5 3183.4,640 3183.8,679.1 3184.1,687.8 3184.5,613 3184.9,686.8 3185.2,510.2 3185.6,621 3186,611.2 3186.3,690.8 3186.7,664.9 3187.1,671.5 3187.4,679.3 3187.8,592.7 3188.2,665.7 3188.5,613.7 3188.9,619.2 3189.3,599.6 3189.7,652.2 3190,606.1 3190.4,552.7 3190.8,473.8 3191.1,682.1 3191.5,667.5 3191.9,521.5 3192.2,563.9 3192.6,611.7 3193,670.2 3193.3,598 3193.7,698.3 3194.1,640 3194.4,406.4 3194.8,429 3195.2,519.3 3195.5,359 3195.9,381 3196.3,681.4 3196.6,648.7 3197,673.4 3197.4,669 3197.7,642.1 3198.1,674.5 3198.5,609.1 3198.8,595.5 3199.2,684.8 3199.6,678.4 3200,601.6 3200.3,507.8 3200.7,536.9 3201.1,467.6 3201.4,538.1 3201.8,650.4 3202.2,287.8 3202.5,595.6 3202.9,614.5 3203.3,575.9 3203.6,500.8 3204,692.8 3204.4,609.6 3204.7,546.5 3205.1,568.5 3205.5,417.6 3205.8,615.3 3206.2,619.9 3206.6,670.8 3206.9,640.3 3207.3,672.6 3207.7,617.5 3208,267 3208.4,331 3208.8,370.5 3209.2,701.7 3209.5,703 3209.9,582.4 3210.3,620.9 3210.6,586.1 3211,621.9 3211.4,614.7 3211.7,417.6 3212.1,685.3 3212.5,561.3 3212.8,631.9 3213.2,669 3213.6,593.6 3213.9,612.4 3214.3,571.6 3214.7,588.4 3215,631.8 3215.4,621.2 3215.8,654 3216.1,513 3216.5,662.1 3216.9,622.8 3217.2,558.8 3217.6,597.2 3218,593.5 3218.3,621.4 3218.7,451.2 3219.1,675.9 3219.5,596.6 3219.8,547.8 3220.2,543.3 3220.6,643.4 3220.9,506 3221.3,658 3221.7,656.6 3222,553.4 3222.4,594.4 3222.8,570.5 3223.1,544.2 3223.5,576.2 3223.9,411 3224.2,677.9 3224.6,649.8 3225,690.9 3225.3,631.9 3225.7,651.3 3226.1,605.2 3226.4,595.6 3226.8,687.5 3227.2,695.1 3227.5,647.7 3227.9,624.9 3228.3,674.7 3228.6,592.5 3229,603.8 3229.4,594.6 3229.8,621.6 3230.1,631.8 3230.5,545.6 3230.9,570 3231.2,626.1 3231.6,637 3232,362 3232.3,644.6 3232.7,669.2 3233.1,651.2 3233.4,654.4 3233.8,591.6 3234.2,693.4 3234.5,662.5 3234.9,578.5 3235.3,651.3 3235.6,638.8 3236,635.6 3236.4,583 3236.7,646.8 3237.1,557.8 3237.5,680.9 3237.8,638.8 3238.2,631.5 3238.6,587.1 3239,619.7 3239.3,608.1 3239.7,670.9 3240.1,631.5 3240.4,569.6 3240.8,668.3 3241.2,445.9 3241.5,687.4 3241.9,671.5 3242.3,643.3 3242.6,682.9 3243,546.4 3243.4,256.4 3243.7,419 3244.1,662.6 3244.5,640.6 3244.8,614.2 3245.2,687.1 3245.6,619.5 3245.9,628 3246.3,696.4 3246.7,651.7 3247,580.2 3247.4,595.6 3247.8,661.1 3248.1,594.7 3248.5,590.1 3248.9,671.4 3249.3,601.8 3249.6,615.1 3250,662.1 3250.4,627 3250.7,700.8 3251.1,647.9 3251.5,446.8 3251.8,664.2 3252.2,446.2 3252.6,558.6 3252.9,684.4 3253.3,543.8 3253.7,634.3 3254,685.1 3254.4,679.6 3254.8,674.3 3255.1,629.4 3255.5,623.9 3255.9,698 3256.2,631.7 3256.6,659.4 3257,409.5 3257.3,645.6 3257.7,459.3 3258.1,679.2 3258.4,578.3 3258.8,252 3259.2,283.6 3259.6,380 3259.9,674.6 3260.3,663.9 3260.7,622.7 3261,627.6 3261.4,627.5 3261.8,665.7 3262.1,454.8 3262.5,441.3 3262.9,647 3263.2,662 3263.6,694.1 3264,626.9 3264.3,629.1 3264.7,593.9 3265.1,512.1 3265.4,661.9 3265.8,700.8 3266.2,594.4 3266.5,674.6 3266.9,600.7 3267.3,316.9 3267.6,420.7 3268,437 3268.4,541.7 3268.8,603.4 3269.1,560.9 3269.5,622.8 3269.9,470 3270.2,572.1 3270.6,507.1 3271,568.3 3271.3,678.1 3271.7,608.8 3272.1,416.6 3272.4,601.5 3272.8,547.2 3273.2,502.2 3273.5,636.2 3273.9,602.4 3274.3,672.4 3274.6,682.9 3275,671.4 3275.4,628.5 3275.7,486.9 3276.1,632.9 3276.5,657.6 3276.8,682.7 3277.2,557.7 3277.6,521.2 3277.9,694 3278.3,659.7 3278.7,666.8 3279.1,652.8 3279.4,632.9 3279.8,652 3280.2,676.8 3280.5,577.7 3280.9,665.3 3281.3,633.7 3281.6,688.8 3282,654.3 3282.4,545.4 3282.7,604.9 3283.1,697.5 3283.5,583.9 3283.8,482.2 3284.2,561.4 3284.6,690.1 3284.9,633.5 3285.3,646.4 3285.7,667.1 3286,682.5 3286.4,668.2 3286.8,502.3 3287.1,523.6 3287.5,440.2 3287.9,608.8 3288.3,494.3 3288.6,535.3 3289,599 3289.4,640.7 3289.7,405.2 3290.1,461.4 3290.5,568.6 3290.8,286.6 3291.2,379 3291.6,394 3291.9,440.7 3292.3,656.4 3292.7,687.1 3293,599.2 3293.4,502.6 3293.8,522.3 3294.1,684.6 3294.5,439.3 3294.9,678.9 3295.2,540.3 3295.6,660.8 3296,669 3296.3,639.8 3296.7,661.3 3297.1,626.7 3297.4,697.6 3297.8,585.4 3298.2,457 3298.6,695.6 3298.9,696.8 3299.3,659 3299.7,486.2 3300,677.1 3300.4,535.3 3300.8,610.9 3301.1,60.6 3301.5,397.3 3301.9,460 3302.2,579.6 3302.6,623.7 3303,695.8 3303.3,640.2 3303.7,628.8 3304.1,595.1 3304.4,646.3 3304.8,661.6 3305.2,670.7 3305.5,573.8 3305.9,669 3306.3,684.6 3306.6,640.2 3307,687.3 3307.4,521.4 3307.7,643.3 3308.1,670.7 3308.5,650.1 3308.9,516.4 3309.2,658.7 3309.6,550.6 3310,609.7 3310.3,661.4 3310.7,695.2 3311.1,691.8 3311.4,649.3 3311.8,695.7 3312.2,563.1 3312.5,552.4 3312.9,662.1 3313.3,568.3 3313.6,680.3 3314,463.5 3314.4,575.5 3314.7,599.3 3315.1,574.6 3315.5,651.4 3315.8,545.2 3316.2,597.2 3316.6,585.8 3316.9,415.5 3317.3,665.5 3317.7,613.2 3318.1,563.1 3318.4,605.3 3318.8,610.9 3319.2,691.4 3319.5,656.7 3319.9,647.3 3320.3,598 3320.6,676.6 3321,665.5 3321.4,505 3321.7,687.9 3322.1,666.4 3322.5,620.2 3322.8,589.2 3323.2,539.5 3323.6,644.8 3323.9,575.1 3324.3,541.3 3324.7,696.1 3325,632.4 3325.4,593 3325.8,655.7 3326.1,687 3326.5,651 3326.9,611.5 3327.2,592.7 3327.6,611.5 3328,584.5 3328.4,674.1 3328.7,629 3329.1,663.2 3329.5,501.6 3329.8,574.3 3330.2,678.5 3330.6,609.3 3330.9,677.7 3331.3,600.9 3331.7,648.3 3332,667.6 3332.4,687.4 3332.8,614.5 3333.1,641.6 3333.5,556.8 3333.9,642.9 3334.2,593.1 3334.6,702.8 3335,683.6 3335.3,606.3 3335.7,588.4 3336.1,675.1 3336.4,612.4 3336.8,521.8 3337.2,649 3337.5,683.1 3337.9,703 3338.3,627.9 3338.7,572.6 3339,316.9 3339.4,403.7 3339.8,417 3340.1,428 3340.5,447 3340.9,688.4 3341.2,669.9 3341.6,671.9 3342,627.3 3342.3,640.2 3342.7,492.8 3343.1,427.7 3343.4,643.4 3343.8,650.7 3344.2,555.5 3344.5,627.5 3344.9,516.6 3345.3,591.8 3345.6,658.6 3346,616.2 3346.4,663.9 3346.7,515.1 3347.1,414.8 3347.5,552.1 3347.9,654.7 3348.2,661.2 3348.6,700.4 3349,619.4 3349.3,693.4 3349.7,605.1 3350.1,424.2 3350.4,686.1 3350.8,600.5 3351.2,564.3 3351.5,630.6 3351.9,670.4 3352.3,590.5 3352.6,540.7 3353,669.5 3353.4,610.4 3353.7,687.4 3354.1,524.6 3354.5,665.5 3354.8,594.3 3355.2,636.7 3355.6,706.3 3355.9,637.4 3356.3,659.1 3356.7,511.7 3357,663.8 3357.4,704.3 3357.8,605.3 3358.2,569.5 3358.5,408.7 3358.9,594 3359.3,369.1 3359.6,604.8 3360,590.9 3360.4,517.7 3360.7,647.8 3361.1,466.3 3361.5,577.8 3361.8,691.9 3362.2,384.6 3362.6,693.5 3362.9,429.9 3363.3,200 3363.7,221 3364,354.6 3364.4,669.4 3364.8,523.6 3365.1,505.2 3365.5,599.1 3365.9,629.5 3366.2,522.6 3366.6,340.7 3367,528.8 3367.3,542.9 3367.7,671.3 3368.1,661.2 3368.5,456 3368.8,571.5 3369.2,451.8 3369.6,659 3369.9,686.7 3370.3,629.6 3370.7,665.3 3371,568.5 3371.4,641.8 3371.8,625.8 3372.1,554.2 3372.5,475.6 3372.9,692.8 3373.2,411.4 3373.6,458.8 3374,586.7 3374.3,645.7 3374.7,531.5 3375.1,665.3 3375.4,674 3375.8,632.5 3376.2,444.1 3376.5,673 3376.9,672.4 3377.3,664.9 3377.7,616.2 3378,582.2 3378.4,575.7 3378.8,441.3 3379.1,502.7 3379.5,539.7 3379.9,626.3 3380.2,684.3 3380.6,658 3381,586.9 3381.3,683.5 3381.7,622.1 3382.1,657.2 3382.4,596 3382.8,446.9 3383.2,627.6 3383.5,320.6 3383.9,387.9 3384.3,424.5 3384.6,616 3385,436.5 3385.4,642.3 3385.7,512.4 3386.1,613.3 3386.5,513.6 3386.8,653.6 3387.2,621.3 3387.6,599.2 3388,671.9 3388.3,644.8 3388.7,493.5 3389.1,636.7 3389.4,656.9 3389.8,668.6 3390.2,583.3 3390.5,674.7 3390.9,608.4 3391.3,444.6 3391.6,476.2 3392,567.1 3392.4,691.6 3392.7,508.2 3393.1,699.9 3393.5,692.7 3393.8,599.1 3394.2,703.9 3394.6,697.8 3394.9,691.7 3395.3,571.7 3395.7,620.6 3396,408.3 3396.4,655.7 3396.8,480.7 3397.2,654.6 3397.5,706.9 3397.9,499.6 3398.3,611.7 3398.6,683.5 3399,656.3 3399.4,682.5 3399.7,632.9 3400.1,651.9 3400.5,671.9 3400.8,612.5 3401.2,591.2 3401.6,610.1 3401.9,647 3402.3,570 3402.7,668.5 3403,615.3 3403.4,658.5 3403.8,652.6 3404.1,676.1 3404.5,633.4 3404.9,680.8 3405.2,545 3405.6,565.4 3406,689.8 3406.3,592.2 3406.7,690.8 3407.1,593 3407.5,673.6 3407.8,678.2 3408.2,629.2 3408.6,698.5 3408.9,687.1 3409.3,569.1 3409.7,659.6 3410,569.5 3410.4,636.6 3410.8,684.4 3411.1,701.1 3411.5,683.4 3411.9,589.2 3412.2,439.4 3412.6,578 3413,637.9 3413.3,645 3413.7,630.7 3414.1,666 3414.4,638.2 3414.8,526.8 3415.2,532.6 3415.5,480.4 3415.9,600.6 3416.3,578.2 3416.6,555.6 3417,677 3417.4,591.5 3417.8,692.2 3418.1,686.4 3418.5,523.8 3418.9,343 3419.2,397.3 3419.6,641.2 3420,641.9 3420.3,424.2 3420.7,606 3421.1,651.3 3421.4,406.8 3421.8,643 3422.2,607.7 3422.5,680.6 3422.9,667.1 3423.3,566.3 3423.6,607.8 3424,658.4 3424.4,684.7 3424.7,646.5 3425.1,685.2 3425.5,585.1 3425.8,644.2 3426.2,633.3 3426.6,702.6 3427,440.9 3427.3,423.2 3427.7,434.8 3428.1,615.1 3428.4,573.4 3428.8,476.2 3429.2,638.3 3429.5,590.5 3429.9,686.1 3430.3,705.2 3430.6,590.2 3431,564.6 3431.4,675.3 3431.7,659.6 3432.1,495.4 3432.5,673.1 3432.8,677.6 3433.2,676.1 3433.6,540.8 3433.9,618.4 3434.3,660 3434.7,571.5 3435,689.5 3435.4,557.1 3435.8,591.6 3436.1,672.4 3436.5,353.9 3436.9,698.5 3437.3,563.1 3437.6,501.1 3438,639.9 3438.4,572.8 3438.7,679.8 3439.1,565.3 3439.5,576.6 3439.8,699.1 3440.2,609.3 3440.6,461.1 3440.9,492.8 3441.3,522.9 3441.7,604.2 3442,609.6 3442.4,679.2 3442.8,647.9 3443.1,639.8 3443.5,671.2 3443.9,669.5 3444.2,640.3 3444.6,592.1 3445,645.1 3445.3,551.3 3445.7,675.2 3446.1,518.7 3446.4,649.1 3446.8,347.8 3447.2,409.3 3447.6,647.5 3447.9,648.6 3448.3,557.2 3448.7,677.5 3449,503.2 3449.4,698.8 3449.8,611.3 3450.1,620.6 3450.5,529.8 3450.9,658.1 3451.2,596 3451.6,674.6 3452,534.8 3452.3,633.4 3452.7,643.2 3453.1,527.4 3453.4,641.9 3453.8,440.2 3454.2,701.9 3454.5,696.9 3454.9,616.1 3455.3,495 3455.6,658.8 3456,656.5 3456.4,518.3 3456.8,639.9 3457.1,616 3457.5,635.6 3457.9,557.1 3458.2,663.1 3458.6,673.4 3459,586.1 3459.3,679.3 3459.7,653.1 3460.1,620.9 3460.4,653.1 3460.8,629.4 3461.2,541 3461.5,650.5 3461.9,605.9 3462.3,653.6 3462.6,601.2 3463,664.3 3463.4,679.9 3463.7,472.8 3464.1,591 3464.5,516.1 3464.8,619 3465.2,564.7 3465.6,534.1 3465.9,397.3 3466.3,477.6 3466.7,538.1 3467.1,656.4 3467.4,687.2 3467.8,604.7 3468.2,619.6 3468.5,438.5 3468.9,614.5 3469.3,699.9 3469.6,457.2 3470,586.6 3470.4,500.3 3470.7,632.7 3471.1,680.2 3471.5,667.5 3471.8,670.3 3472.2,566.5 3472.6,440.5 3472.9,625.9 3473.3,623.6 3473.7,448.2 3474,693 3474.4,657 3474.8,488.2 3475.1,267.8 3475.5,277 3475.9,317.6 3476.2,386 3476.6,564.9 3477,463.5 3477.4,440.6 3477.7,672.6 3478.1,619.4 3478.5,563.8 3478.8,526.7 3479.2,699.2 3479.6,423.4 3479.9,605 3480.3,629.1 3480.7,475 3481,614.4 3481.4,483.7 3481.8,698.1 3482.1,647.9 3482.5,411.3 3482.9,508.9 3483.2,622 3483.6,626.1 3484,626.8 3484.3,317.6 3484.7,654.6 3485.1,509.6 3485.4,652.3 3485.8,515.3 3486.2,697.6 3486.6,625.5 3486.9,574.2 3487.3,558 3487.7,578.1 3488,661.7 3488.4,489.1 3488.8,624.7 3489.1,592.5 3489.5,640 3489.9,696 3490.2,622.2 3490.6,495.5 3491,450.5 3491.3,483.5 3491.7,652.5 3492.1,655.9 3492.4,588.6 3492.8,674.8 3493.2,575.7 3493.5,632.4 3493.9,640.7 3494.3,672.5 3494.6,569.6 3495,627.3 3495.4,478 3495.7,633.5 3496.1,631.3 3496.5,617.4 3496.9,639.2 3497.2,624.9 3497.6,610.3 3498,651.1 3498.3,540 3498.7,587.2 3499.1,451.4 3499.4,663.7 3499.8,637.3 3500.2,379 3500.5,531 3500.9,587.5 3501.3,704.5 3501.6,642.3 3502,511.2 3502.4,622.7 3502.7,614.7 3503.1,453 3503.5,652.7 3503.8,581.7 3504.2,663.7 3504.6,588.4 3504.9,610.6 3505.3,646.9 3505.7,652.6 3506.1,449.8 3506.4,497.6 3506.8,615.6 3507.2,556.4 3507.5,644.6 3507.9,651.4 3508.3,519 3508.6,622.5 3509,568 3509.4,697.4 3509.7,545.7 3510.1,458.2 3510.5,652.9 3510.8,350.8 3511.2,361.4 3511.6,556.2 3511.9,609.2 3512.3,606 3512.7,649.6 3513,519.8 3513.4,621 3513.8,619.1 3514.1,639.5 3514.5,658.3 3514.9,651 3515.2,683 3515.6,651.3 3516,629.9 3516.4,503.4 3516.7,661.4 3517.1,632 3517.5,683.2 3517.8,592.4 3518.2,652.4 3518.6,671.8 3518.9,695.9 3519.3,667.3 3519.7,577.1 3520,508.1 3520.4,661.2 3520.8,531.5 3521.1,669.7 3521.5,547.4 3521.9,698.1 3522.2,648 3522.6,652.4 3523,587.5 3523.3,541.4 3523.7,608.5 3524.1,650.7 3524.4,490.4 3524.8,608.2 3525.2,564.4 3525.5,646.6 3525.9,666.1 3526.3,517.5 3526.7,704.8 3527,581.9 3527.4,548.4 3527.8,654.3 3528.1,568.4 3528.5,362 3528.9,626.2 3529.2,661.5 3529.6,626 3530,675.6 3530.3,683.6 3530.7,614 3531.1,586 3531.4,670 3531.8,685.8 3532.2,656.6 3532.5,579.3 3532.9,691.7 3533.3,571.4 3533.6,656.3 3534,639.7 3534.4,662.3 3534.7,637.4 3535.1,546.2 3535.5,622.6 3535.9,696 3536.2,666.8 3536.6,648.2 3537,654.5 3537.3,591.1 3537.7,699.4 3538.1,683.7 3538.4,675.8 3538.8,632.7 3539.2,629.5 3539.5,622.9 3539.9,556.8 3540.3,594.4 3540.6,698.4 3541,637.5 3541.4,639.7 3541.7,670 3542.1,584.1 3542.5,677.1 3542.8,704.3 3543.2,649.7 3543.6,624.1 3543.9,644.3 3544.3,635.4 3544.7,471 3545,601.5 3545.4,629.4 3545.8,686.7 3546.2,670.5 3546.5,349 3546.9,405.6 3547.3,415 3547.6,648 3548,660.9 3548.4,470.6 3548.7,602.2 3549.1,543.4 3549.5,536 3549.8,544 3550.2,580.1 3550.6,585.9 3550.9,614.3 3551.3,543.7 3551.7,638.3 3552,591.5 3552.4,621.2 3552.8,691.7 3553.1,598.7 3553.5,649.3 3553.9,449.2 3554.2,689.5 3554.6,660.7 3555,618.7 3555.3,640.8 3555.7,470.2 3556.1,662.2 3556.5,572.3 3556.8,605.7 3557.2,625.3 3557.6,683.2 3557.9,543 3558.3,629.1 3558.7,648.6 3559,655 3559.4,590.2 3559.8,673.8 3560.1,636.2 3560.5,531.8" fill="none" stroke="#042ce2" stroke-width="3.4" stroke-linejoin="round" marker-start="url(#mb)" marker-mid="url(#mb)" marker-end="url(#mb)"/>
<path d="M2112,604.5H3579" fill="none" stroke="#ee1438" stroke-width="4.7" stroke-dasharray="32.6 20.6" stroke-dashoffset="0" stroke-linecap="butt" stroke-linejoin="miter"/>
<g stroke="#0a0a0a" fill="none" stroke-linecap="butt">
<path stroke-width="5" d="M297.5,24V707.5M295,705H1776.6"/>
<path stroke-width="4.6" d="M295,26.4H316M295,250H316M295,475H316"/>
<path stroke-width="4.4" d="M481.3,705V687M674.4,705V687M862.9,705V687M1054,705V687M1231.7,705V687M1401.3,705V687M1590,705V687M1774.2,705V687"/>
</g>
<g stroke="#0a0a0a" fill="none" stroke-linecap="butt">
<path stroke-width="5" d="M2112.2,17.5V714.4M2109.7,711.9H3587.7"/>
<path stroke-width="4.6" d="M2110,73.9H2133.4M2110,178.8H2133.4M2110,286H2133.4M2110,389.7H2133.4M2110,494H2133.4M2110,595.9H2133.4"/>
<path stroke-width="4.4" d="M2294.5,712V693M2477.3,712V693M2664.8,712V693M2858.9,712V693M3042.5,712V693M3227.9,712V693M3418.2,712V693M3585.3,712V693"/>
</g>
<text transform="translate(281,47.8) scale(0.91,1)" text-anchor="end" font-size="70">3</text>
<text transform="translate(281,270.3) scale(0.91,1)" text-anchor="end" font-size="70">2</text>
<text transform="translate(281,496) scale(0.91,1)" text-anchor="end" font-size="70">1</text>
<text transform="translate(281,730.2) scale(0.91,1)" text-anchor="end" font-size="70">0</text>
<text transform="translate(296.4,782.6) scale(0.91,1)" text-anchor="middle" font-size="70">0</text>
<text transform="translate(478.9,782.6) scale(0.91,1)" text-anchor="middle" font-size="70">500</text>
<text transform="translate(665.6,782.6) scale(0.91,1)" text-anchor="middle" font-size="70">1000</text>
<text transform="translate(853.7,782.6) scale(0.91,1)" text-anchor="middle" font-size="70">1500</text>
<text transform="translate(1045.3,782.6) scale(0.91,1)" text-anchor="middle" font-size="70">2000</text>
<text transform="translate(1230.3,782.6) scale(0.91,1)" text-anchor="middle" font-size="70">2500</text>
<text transform="translate(1405,782.6) scale(0.91,1)" text-anchor="middle" font-size="70">3000</text>
<text transform="translate(1592.4,782.6) scale(0.91,1)" text-anchor="middle" font-size="70">3500</text>
<text transform="translate(1768.2,782.6) scale(0.91,1)" text-anchor="middle" font-size="70">4000</text>
<text x="1035.2" y="863.3" text-anchor="middle" font-size="68" font-style="italic">k</text>
<text x="795" y="951.1" font-size="68">a</text>
<text x="857.5" y="953.1" font-size="66" letter-spacing="2.4">移动窗</text>
<text x="1056" y="951.1" font-size="67">KPCA</text>
<g transform="translate(191.8,476) rotate(-90)" opacity="0.995">
<text x="-4" y="0" font-size="68" font-style="italic">Q</text>
<text transform="translate(44.2,22.4) scale(0.905,1)" font-size="41">SPE</text>
<text transform="translate(105.1,0) scale(0.95,1)" font-size="68">/</text>
<text transform="translate(122.8,0) scale(0.905,1)" font-size="68">10</text>
<text transform="translate(183.7,-17.4) scale(0.905,1)" font-size="41">−</text>
<text transform="translate(204.6,-22.6) scale(0.905,1)" font-size="41">4</text>
</g>
<text transform="translate(2096.4,98) scale(0.91,1)" text-anchor="end" font-size="70">3.0</text>
<text transform="translate(2096.4,202.2) scale(0.91,1)" text-anchor="end" font-size="70">2.5</text>
<text transform="translate(2096.4,309.6) scale(0.91,1)" text-anchor="end" font-size="70">2.0</text>
<text transform="translate(2096.4,413.8) scale(0.91,1)" text-anchor="end" font-size="70">1.5</text>
<text transform="translate(2096.4,517.8) scale(0.91,1)" text-anchor="end" font-size="70">1.0</text>
<text transform="translate(2096.4,617.6) scale(0.91,1)" text-anchor="end" font-size="70">0.5</text>
<text transform="translate(2096.4,737) scale(0.91,1)" text-anchor="end" font-size="70">0</text>
<text transform="translate(2112,787.8) scale(0.91,1)" text-anchor="middle" font-size="70">0</text>
<text transform="translate(2294.9,787.8) scale(0.91,1)" text-anchor="middle" font-size="70">500</text>
<text transform="translate(2481.7,787.8) scale(0.91,1)" text-anchor="middle" font-size="70">1000</text>
<text transform="translate(2670.2,787.8) scale(0.91,1)" text-anchor="middle" font-size="70">1500</text>
<text transform="translate(2861.8,787.8) scale(0.91,1)" text-anchor="middle" font-size="70">2000</text>
<text transform="translate(3047.3,787.8) scale(0.91,1)" text-anchor="middle" font-size="70">2500</text>
<text transform="translate(3222.5,787.8) scale(0.91,1)" text-anchor="middle" font-size="70">3000</text>
<text transform="translate(3409.6,787.8) scale(0.91,1)" text-anchor="middle" font-size="70">3500</text>
<text transform="translate(3585.7,787.8) scale(0.91,1)" text-anchor="middle" font-size="70">4000</text>
<text x="2852.3" y="864.6" text-anchor="middle" font-size="68" font-style="italic">k</text>
<text x="2627" y="951.1" font-size="68">b</text>
<text x="2693" y="953.1" font-size="66" letter-spacing="2.4">确定性</text>
<text x="2891.5" y="951.1" font-size="67">KPCA</text>
<g transform="translate(1967.8,491.3) rotate(-90)" opacity="0.995">
<text x="-4" y="0" font-size="68" font-style="italic">Q</text>
<text transform="translate(44.2,22.4) scale(0.905,1)" font-size="41">SPE</text>
<text transform="translate(105.1,0) scale(0.95,1)" font-size="68">/</text>
<text transform="translate(122.8,0) scale(0.905,1)" font-size="68">10</text>
<text transform="translate(183.7,-17.4) scale(0.905,1)" font-size="41">−</text>
<text transform="translate(204.6,-22.6) scale(0.905,1)" font-size="41">4</text>
</g>
</svg></body></html>
